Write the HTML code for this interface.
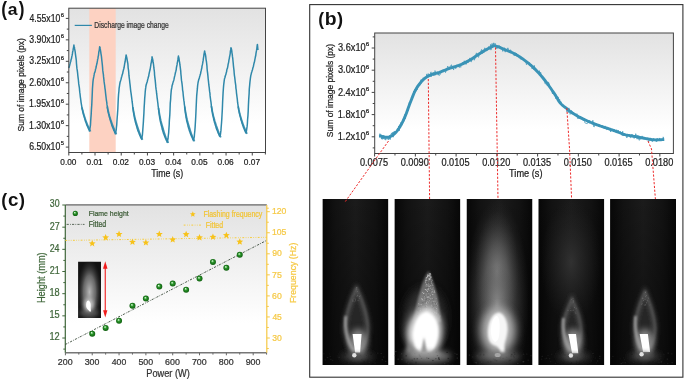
<!DOCTYPE html><html><head><meta charset="utf-8"><style>html,body{margin:0;padding:0;background:#fff;}svg{display:block;font-family:"Liberation Sans",sans-serif;will-change:transform;}</style></head><body><svg width="685" height="382" viewBox="0 0 685 382" font-family="Liberation Sans, sans-serif">
<defs>
<linearGradient id="bgA" x1="0" y1="0" x2="0" y2="1">
 <stop offset="0" stop-color="#e2e2e2"/><stop offset="0.55" stop-color="#f6f6f6"/><stop offset="0.8" stop-color="#ffffff"/></linearGradient>
<linearGradient id="bgB" x1="0" y1="0" x2="0" y2="1">
 <stop offset="0" stop-color="#e2e2e2"/><stop offset="0.55" stop-color="#f6f6f6"/><stop offset="0.8" stop-color="#ffffff"/></linearGradient>
<linearGradient id="bgC" x1="0" y1="0" x2="0" y2="1">
 <stop offset="0" stop-color="#e2e2e2"/><stop offset="0.55" stop-color="#f6f6f6"/><stop offset="0.8" stop-color="#ffffff"/></linearGradient>
<radialGradient id="ball" cx="0.5" cy="0.5" r="0.5" fx="0.38" fy="0.32">
 <stop offset="0" stop-color="#f0fff0"/><stop offset="0.22" stop-color="#8fd08f"/><stop offset="0.45" stop-color="#2a942a"/><stop offset="1" stop-color="#0e5e0e"/></radialGradient>
<filter id="b1" x="-50%" y="-50%" width="200%" height="200%"><feGaussianBlur stdDeviation="1"/></filter>
<filter id="b2" x="-50%" y="-50%" width="200%" height="200%"><feGaussianBlur stdDeviation="2"/></filter>
<filter id="b3" x="-50%" y="-50%" width="200%" height="200%"><feGaussianBlur stdDeviation="3"/></filter>
<filter id="b5" x="-50%" y="-50%" width="200%" height="200%"><feGaussianBlur stdDeviation="5"/></filter>
<filter id="b8" x="-50%" y="-50%" width="200%" height="200%"><feGaussianBlur stdDeviation="8"/></filter>
<filter id="b06" x="-50%" y="-50%" width="200%" height="200%"><feGaussianBlur stdDeviation="0.6"/></filter>
</defs>
<rect x="0" y="0" width="685" height="382" fill="#ffffff"/>
<rect x="68.8" y="8.2" width="196.7" height="144.3" fill="url(#bgA)"/>
<rect x="89.3" y="8.2" width="26.4" height="144.3" fill="#fdd2c2"/>
<path d="M68.87,67.96 L69.24,66.83 L69.53,65.88 L69.77,64.84 L70.08,63.66 L70.39,62.3 L70.76,61.44 L71.03,59.83 L71.42,58.81 L71.72,57.09 L72.1,55.4 L72.39,53.95 L72.59,52.22 L72.93,50.88 L73.22,49.01 L73.61,47.09 L73.91,45.08 L74.09,46.18 L74.45,47.5 L74.65,48.96 L74.93,50.34 L75.24,52.19 L75.41,53.88 L75.71,56.03 L76,58.07 L76.3,60.53 L76.47,63.47 L76.69,65.93 L76.93,68.44 L77.3,70.69 L77.58,72.82 L77.81,75.2 L78.05,77.35 L78.35,79.78 L78.55,81.79 L78.74,83.94 L79.09,86.18 L79.38,87.89 L79.57,90.16 L79.77,92.16 L80.05,94.11 L80.29,96.54 L80.56,98.35 L80.86,100.66 L81.07,102.36 L81.4,104.38 L81.7,106.04 L81.87,107.32 L82.14,108.9 L82.5,109.79 L82.63,111 L82.9,112.22 L83.21,113.15 L83.38,114.23 L83.7,115.27 L84.05,116.28 L84.24,117.17 L84.52,117.78 L84.81,119 L85.07,119.84 L85.25,120.44 L85.46,121.33 L85.71,121.8 L86,122.57 L86.27,123.22 L86.48,123.95 L86.75,124.71 L87,125.61 L87.35,125.88 L87.55,126.6 L87.83,127.1 L88.16,128.13 L88.36,128.47 L88.56,128.85 L88.86,129.49 L89.19,129.99 L89.32,130.93 L89.66,129.74 L89.92,128.33 L90.18,127.1 L90.49,124.79 L90.65,121.6 L90.89,118.14 L91.21,114.06 L91.43,109.51 L91.77,104.76 L92.03,98.69 L92.28,93.06 L92.45,88.8 L92.72,85.05 L92.93,82.08 L93.22,79.7 L93.59,77.63 L93.85,76.45 L94.11,74.93 L94.25,73.84 L94.5,72.91 L94.83,72.39 L95.12,71.28 L95.35,70.44 L95.51,69.28 L95.9,68.25 L96.14,67.01 L96.3,66.06 L96.58,64.93 L96.94,63.55 L97.11,62.6 L97.42,60.92 L97.58,59.54 L97.96,58.43 L98.1,56.93 L98.49,55.28 L98.65,53.6 L98.87,51.64 L99.26,50.22 L99.45,48.56 L99.69,46.69 L100.01,47.4 L100.18,48.68 L100.44,50.23 L100.7,51.7 L100.95,53.62 L101.24,55.18 L101.54,57.44 L101.77,59.82 L102.05,62.22 L102.31,64.64 L102.56,67.36 L102.75,70.14 L103.04,72.31 L103.39,74.66 L103.58,76.92 L103.88,79.31 L104.07,81.43 L104.35,83.48 L104.7,85.76 L104.93,88.03 L105.24,89.97 L105.46,92.12 L105.7,94.36 L105.95,96.44 L106.22,98.78 L106.51,100.86 L106.81,102.59 L107.01,104.88 L107.32,106.31 L107.46,108.16 L107.72,109.6 L107.98,111.19 L108.35,112.57 L108.51,113.67 L108.85,114.51 L109.15,115.98 L109.31,116.99 L109.6,117.74 L109.95,118.88 L110.08,119.62 L110.4,120.48 L110.61,121.34 L110.95,122.04 L111.19,123.07 L111.36,123.8 L111.72,124.66 L111.89,125.63 L112.27,126.34 L112.42,126.68 L112.67,127.61 L112.97,127.94 L113.25,128.97 L113.58,129.28 L113.73,130.23 L114.06,130.73 L114.24,131.01 L114.6,131.78 L114.76,132.61 L115.11,133.1 L115.28,133.68 L115.55,132.95 L115.89,131.44 L116.17,130.14 L116.4,127.72 L116.71,124.97 L116.92,121.52 L117.18,117.75 L117.49,113.83 L117.83,109.05 L118.06,103.43 L118.31,98.14 L118.57,94.29 L118.91,91.29 L119.1,88.37 L119.49,85.79 L119.74,84.14 L119.96,82.99 L120.22,81.7 L120.53,80.99 L120.75,80.07 L121.08,79.16 L121.3,78.18 L121.52,77.14 L121.79,76.43 L122.09,75.13 L122.34,74.46 L122.73,73.34 L122.91,72.07 L123.18,71.09 L123.43,69.94 L123.72,68.99 L124.11,67.51 L124.26,66.38 L124.54,64.68 L124.76,63.23 L125.11,61.78 L125.34,60.21 L125.58,58.47 L125.86,56.87 L126.13,54.96 L126.42,56.07 L126.72,57.41 L127.01,58.83 L127.25,60.44 L127.46,61.78 L127.81,63.4 L128.02,65.61 L128.17,68 L128.56,70.39 L128.79,73.06 L128.95,75.46 L129.26,77.99 L129.56,80.24 L129.78,82.49 L130.05,84.59 L130.24,86.43 L130.48,88.74 L130.73,91.1 L131.05,93.08 L131.32,95.16 L131.55,96.85 L131.86,99.26 L132.07,101.22 L132.35,103.07 L132.61,105.22 L132.76,107.26 L133.12,109.19 L133.38,111.46 L133.59,112.93 L133.85,114.71 L134.15,116.16 L134.38,117.21 L134.56,118.53 L134.91,119.7 L135.14,120.63 L135.31,121.78 L135.66,122.97 L135.92,123.72 L136.15,124.74 L136.39,125.47 L136.72,126.39 L136.99,127.6 L137.09,128.17 L137.47,129.21 L137.67,129.62 L137.88,130.7 L138.14,131.23 L138.38,131.89 L138.77,132.36 L139,133.2 L139.27,133.92 L139.42,134.64 L139.71,134.81 L139.89,135.64 L140.22,136.14 L140.42,136.74 L140.71,137.55 L140.91,138.06 L141.3,138.28 L141.57,139.11 L141.83,138.13 L142.01,136.87 L142.37,135.3 L142.54,133.11 L142.79,129.98 L143.03,126.8 L143.32,122.88 L143.58,118.38 L143.89,113.35 L144.13,107.9 L144.48,102.38 L144.7,98.39 L145.02,94.8 L145.25,91.53 L145.51,89.22 L145.78,87.41 L145.97,85.7 L146.34,84.57 L146.53,83.68 L146.77,82.99 L147.14,81.9 L147.35,81.04 L147.6,80.12 L147.81,78.94 L148.08,78.25 L148.39,76.85 L148.72,76.16 L148.91,74.62 L149.14,73.46 L149.42,72.26 L149.67,71.08 L149.99,70.06 L150.28,68.42 L150.5,67.01 L150.76,65.39 L150.97,63.78 L151.38,62.06 L151.57,60.61 L151.89,58.66 L152.06,56.87 L152.34,58 L152.68,59.41 L152.91,60.37 L153.03,62.24 L153.42,63.76 L153.62,65.27 L153.84,67.73 L154.17,70.02 L154.44,72.25 L154.55,74.83 L154.87,77.68 L155.19,80.11 L155.4,82.42 L155.62,84.58 L155.8,86.93 L156.08,89.2 L156.4,91.08 L156.57,93.2 L156.9,95.55 L157.07,97.33 L157.39,99.64 L157.62,101.53 L157.9,103.53 L158.11,105.87 L158.47,108.06 L158.7,110.03 L158.85,111.92 L159.22,114.06 L159.37,115.51 L159.65,117.5 L159.89,118.8 L160.18,120.48 L160.36,121.28 L160.63,122.64 L160.94,123.62 L161.21,124.93 L161.41,125.66 L161.74,126.68 L161.97,127.58 L162.12,128.77 L162.39,129.75 L162.67,130.23 L162.88,131.17 L163.2,132.24 L163.37,132.73 L163.63,133.77 L163.87,134.03 L164.11,134.9 L164.5,135.83 L164.72,136.54 L165,136.85 L165.14,137.78 L165.48,137.95 L165.72,138.73 L165.92,139.31 L166.14,139.73 L166.41,140.48 L166.77,140.93 L167.02,141.52 L167.18,142.36 L167.53,141.36 L167.69,140.01 L168.02,138.48 L168.27,135.98 L168.66,132.72 L168.87,129.36 L169.2,124.79 L169.37,120.43 L169.79,115.27 L170.04,109.47 L170.25,103.43 L170.63,99.36 L170.8,95.82 L171.09,92.42 L171.32,90.02 L171.75,87.96 L172.03,86.17 L172.2,85.16 L172.59,84.35 L172.78,83.07 L173.07,82.3 L173.43,81.22 L173.69,80.48 L173.97,79.38 L174.22,78.04 L174.45,76.94 L174.81,75.67 L174.99,74.84 L175.28,73.3 L175.53,72.28 L175.85,71.17 L176.22,69.77 L176.4,67.85 L176.66,66.51 L177.03,64.88 L177.24,63.2 L177.58,61.6 L177.88,59.9 L178.15,57.7 L178.45,55.9 L178.66,56.95 L178.94,58.07 L179.11,59.46 L179.34,61.29 L179.66,62.64 L179.88,64.71 L180.15,66.31 L180.45,68.83 L180.73,71.07 L180.9,74.03 L181.2,76.65 L181.33,78.74 L181.59,80.96 L181.98,83.4 L182.22,85.51 L182.46,87.74 L182.61,90.07 L182.97,91.87 L183.17,94.24 L183.35,96.19 L183.59,98.15 L183.86,100.4 L184.17,102.3 L184.32,104.46 L184.68,106.47 L184.87,108.52 L185.2,110.68 L185.33,112.35 L185.63,114.36 L185.92,115.79 L186.1,117.58 L186.39,118.71 L186.62,120.29 L186.87,121.25 L187.13,122.26 L187.46,123.58 L187.63,124.17 L187.94,125.13 L188.07,126.42 L188.39,127.29 L188.63,128.21 L188.89,128.7 L189.07,129.72 L189.42,130.69 L189.58,131.31 L189.88,132 L190.09,132.61 L190.4,133.62 L190.59,134.08 L190.95,134.97 L191.1,135.19 L191.47,136.24 L191.65,136.39 L191.97,137.16 L192.21,137.87 L192.45,138.23 L192.7,138.83 L192.88,139.7 L193.2,139.91 L193.35,140.55 L193.68,139.7 L193.9,138.2 L194.28,136.7 L194.45,134.21 L194.84,130.72 L195.13,126.85 L195.38,122.71 L195.66,118.03 L195.91,112.69 L196.19,106.33 L196.47,100.25 L196.68,95.92 L197.04,91.98 L197.36,88.94 L197.59,85.89 L197.88,83.77 L198.1,82.38 L198.37,81.1 L198.72,79.8 L199.02,78.85 L199.32,78.27 L199.56,76.94 L199.84,76.04 L200.19,74.75 L200.46,74.02 L200.72,72.77 L200.91,71.67 L201.24,70.45 L201.59,68.8 L201.85,67.87 L202.01,66.19 L202.4,64.64 L202.7,63.16 L202.97,61.49 L203.2,60.2 L203.43,58.13 L203.76,56.36 L203.97,54.43 L204.27,52.89 L204.63,50.9 L204.8,51.87 L205.05,52.97 L205.38,54.27 L205.67,55.9 L205.88,57.72 L206.06,59.54 L206.39,61.25 L206.67,63.53 L206.96,66.25 L207.11,68.98 L207.38,71.29 L207.68,73.67 L207.94,76.07 L208.17,78.72 L208.41,80.81 L208.62,82.71 L208.83,84.98 L209.18,87.29 L209.42,89.66 L209.61,91.44 L209.94,93.41 L210.09,95.66 L210.36,97.79 L210.64,100.03 L210.95,101.96 L211.21,104.17 L211.38,106.41 L211.65,107.95 L211.88,110 L212.26,111.75 L212.44,113.01 L212.63,114.56 L212.97,115.67 L213.24,116.89 L213.54,118.14 L213.68,119.27 L213.9,120.09 L214.21,120.91 L214.41,122.14 L214.66,122.95 L215.06,123.64 L215.19,124.74 L215.49,125.59 L215.8,126.16 L215.97,127.01 L216.18,128.06 L216.55,128.7 L216.68,129.47 L217.05,129.96 L217.31,130.62 L217.48,131.1 L217.73,131.7 L218,132.67 L218.31,133.34 L218.57,133.65 L218.8,134.33 L219.09,134.95 L219.26,135.58 L219.62,135.92 L219.86,136.36 L220.04,135.64 L220.4,134.57 L220.68,132.45 L220.98,130.16 L221.16,127.25 L221.5,123.27 L221.79,119.1 L222.04,114.52 L222.35,109.1 L222.59,102.71 L222.89,96.59 L223.11,92.36 L223.37,88.8 L223.66,85.08 L223.94,82.81 L224.26,80.35 L224.48,78.77 L224.87,77.79 L225.15,76.76 L225.33,75.72 L225.66,74.91 L226.01,74 L226.17,72.93 L226.59,71.82 L226.74,70.3 L227.02,69.06 L227.42,68.28 L227.66,67.09 L227.94,65.58 L228.14,64.18 L228.52,62.87 L228.73,61.53 L228.96,59.92 L229.29,58.56 L229.58,56.71 L229.95,55.08 L230.22,53.35 L230.36,51.41 L230.71,49.69 L230.98,47.7 L231.25,48.48 L231.55,49.64 L231.8,51.05 L231.91,52.59 L232.28,54.63 L232.41,56.14 L232.74,58.29 L232.94,60.47 L233.21,63.18 L233.45,65.87 L233.7,68.09 L234.01,70.66 L234.17,73.02 L234.41,75.36 L234.76,77.6 L234.99,79.6 L235.21,81.8 L235.53,83.8 L235.78,85.9 L235.92,88.12 L236.28,90.3 L236.44,92.57 L236.67,94.46 L236.97,96.73 L237.25,98.78 L237.43,100.68 L237.65,102.95 L237.98,104.81 L238.15,106.46 L238.49,108.2 L238.64,109.64 L239.01,110.88 L239.15,112.16 L239.48,113.6 L239.64,114.36 L239.9,115.49 L240.19,116.4 L240.41,117.38 L240.76,118.6 L240.87,119.64 L241.12,120.24 L241.51,121.3 L241.72,121.95 L241.88,122.86 L242.11,123.42 L242.41,124.08 L242.66,125.18 L242.95,125.74 L243.19,126.4 L243.36,127.13 L243.65,127.84 L243.98,128.32 L244.17,129.1 L244.4,129.45 L244.69,130.38 L244.95,130.87 L245.21,131.44 L245.43,131.89 L245.62,132.53 L245.84,132.96 L246.23,132.28 L246.5,130.64 L246.75,128.94 L247.07,126.64 L247.37,123.73 L247.57,119.74 L247.96,115.33 L248.2,111.14 L248.41,105.53 L248.72,99.37 L249.13,93.36 L249.29,89.04 L249.64,85.43 L249.93,82.14 L250.27,79.37 L250.49,77.53 L250.74,75.88 L251.06,74.65 L251.3,73.69 L251.63,72.26 L251.9,71.52 L252.15,70.58 L252.5,69.68 L252.78,68.31 L253.04,67.41 L253.45,66.16 L253.62,65.14 L253.93,63.65 L254.18,62.7 L254.57,61.34 L254.81,59.94 L255.06,58.7 L255.36,57.03 L255.73,55.54 L255.96,53.63 L256.26,51.84 L256.59,50.18 L256.88,48.31 L257.09,46.42 L257.39,44.44 L257.72,47.61 L257.96,49.97" fill="none" stroke="#2f88aa" stroke-width="1.5" stroke-linejoin="round"/>
<path d="M81.95,107.39 L82.21,108.74 L82.27,108.79 L82.53,110.04 L82.6,110.09 L82.86,111.26 L82.92,111.3 L83.17,112.4 L83.23,112.44 L83.49,113.48 L83.54,113.52 L83.8,114.52 L83.86,114.56 L84.11,115.52 L84.17,115.56 L84.43,116.51 L84.48,116.55 L84.73,117.47 L84.78,117.51 L85.04,118.4 L85.09,118.43 L85.35,119.29 L85.39,119.32 L85.65,120.15 L85.7,120.19 L85.95,120.99 L86,121.02 L86.25,121.79 L86.3,121.82 L86.55,122.57 L86.59,122.6 L86.85,123.33 L86.89,123.36 L87.15,124.06 L87.19,124.09 L87.44,124.77 L87.48,124.79 L87.74,125.45 L87.77,125.48 L88.03,126.12 L88.07,126.15 L88.33,126.78 L88.36,126.8 L88.62,127.42 L88.65,127.44 L88.91,128.06 L88.94,128.08 L89.2,128.68 L89.21,128.69 L89.47,129.27 L89.47,129.27 L89.72,129.85 L89.72,129.85 L89.98,130.41 L89.98,130.41 L90.24,130.96 L90.24,130.96 L90.5,131.5" fill="none" stroke="#2f88aa" stroke-width="1.7" stroke-linejoin="round" opacity="0.9"/>
<path d="M107.27,106.5 L107.54,108.2 L107.62,108.26 L107.88,109.79 L107.96,109.85 L108.22,111.22 L108.29,111.28 L108.55,112.55 L108.61,112.6 L108.87,113.79 L108.94,113.83 L109.2,114.95 L109.26,114.99 L109.52,116.06 L109.57,116.1 L109.83,117.11 L109.89,117.15 L110.15,118.13 L110.2,118.17 L110.46,119.14 L110.51,119.18 L110.77,120.12 L110.82,120.15 L111.08,121.06 L111.13,121.1 L111.39,121.97 L111.44,122.01 L111.7,122.85 L111.75,122.88 L112.01,123.7 L112.05,123.73 L112.31,124.52 L112.35,124.55 L112.61,125.32 L112.65,125.35 L112.92,126.09 L112.95,126.11 L113.22,126.83 L113.25,126.86 L113.51,127.55 L113.55,127.58 L113.81,128.25 L113.84,128.27 L114.1,128.93 L114.1,128.93 L114.36,129.57 L114.36,129.57 L114.62,130.2 L114.62,130.2 L114.88,130.82 L114.88,130.82 L115.15,131.43 L115.15,131.43 L115.41,132.03 L115.41,132.03 L115.67,132.62 L115.67,132.62 L115.93,133.19 L115.93,133.19 L116.19,133.75 L116.19,133.75 L116.45,134.3" fill="none" stroke="#2f88aa" stroke-width="1.7" stroke-linejoin="round" opacity="0.9"/>
<path d="M132.9,107.43 L133.16,109.39 L133.26,109.47 L133.52,111.35 L133.61,111.42 L133.87,113.19 L133.96,113.25 L134.21,114.89 L134.3,114.95 L134.55,116.42 L134.62,116.48 L134.88,117.8 L134.95,117.85 L135.2,119.08 L135.26,119.12 L135.52,120.27 L135.58,120.31 L135.83,121.39 L135.89,121.43 L136.14,122.45 L136.2,122.49 L136.45,123.47 L136.51,123.51 L136.76,124.46 L136.81,124.49 L137.07,125.42 L137.12,125.46 L137.37,126.37 L137.42,126.4 L137.67,127.28 L137.72,127.31 L137.98,128.15 L138.01,128.18 L138.26,128.99 L138.26,128.99 L138.52,129.78 L138.52,129.78 L138.78,130.54 L138.78,130.54 L139.03,131.28 L139.03,131.28 L139.28,131.99 L139.28,131.99 L139.54,132.68 L139.54,132.68 L139.79,133.34 L139.79,133.34 L140.05,133.99 L140.05,133.99 L140.31,134.62 L140.31,134.62 L140.56,135.24 L140.56,135.24 L140.81,135.85 L140.81,135.85 L141.07,136.45 L141.07,136.45 L141.32,137.04 L141.32,137.04 L141.58,137.62 L141.58,137.62 L141.84,138.18 L141.84,138.18 L142.09,138.73 L142.09,138.73 L142.34,139.27 L142.34,139.27 L142.6,139.8" fill="none" stroke="#2f88aa" stroke-width="1.7" stroke-linejoin="round" opacity="0.9"/>
<path d="M158.5,108.07 L158.76,110.13 L158.87,110.21 L159.12,112.21 L159.22,112.28 L159.47,114.19 L159.57,114.26 L159.82,116.06 L159.92,116.13 L160.17,117.79 L160.25,117.85 L160.5,119.35 L160.58,119.41 L160.83,120.75 L160.9,120.8 L161.15,122.05 L161.21,122.1 L161.46,123.27 L161.52,123.31 L161.78,124.41 L161.83,124.45 L162.08,125.49 L162.14,125.53 L162.39,126.52 L162.44,126.56 L162.7,127.52 L162.75,127.56 L163,128.5 L163.01,128.52 L163.27,129.44 L163.27,129.44 L163.52,130.33 L163.52,130.33 L163.77,131.19 L163.77,131.19 L164.02,132.01 L164.02,132.01 L164.27,132.81 L164.27,132.81 L164.52,133.58 L164.52,133.58 L164.78,134.33 L164.78,134.33 L165.03,135.06 L165.03,135.06 L165.28,135.76 L165.28,135.76 L165.53,136.44 L165.53,136.44 L165.78,137.09 L165.78,137.09 L166.03,137.74 L166.03,137.74 L166.29,138.36 L166.29,138.36 L166.54,138.98 L166.54,138.98 L166.79,139.59 L166.79,139.59 L167.04,140.19 L167.04,140.19 L167.29,140.78 L167.29,140.78 L167.54,141.35 L167.54,141.35 L167.8,141.91 L167.8,141.91 L168.05,142.46 L168.05,142.46 L168.3,143" fill="none" stroke="#2f88aa" stroke-width="1.7" stroke-linejoin="round" opacity="0.9"/>
<path d="M184.69,106.65 L184.94,108.7 L185.05,108.78 L185.3,110.76 L185.4,110.84 L185.65,112.74 L185.75,112.81 L186,114.59 L186.09,114.66 L186.34,116.31 L186.42,116.37 L186.67,117.86 L186.75,117.91 L187,119.25 L187.06,119.3 L187.31,120.54 L187.38,120.59 L187.63,121.74 L187.69,121.79 L187.94,122.88 L187.99,122.92 L188.24,123.95 L188.3,123.99 L188.55,124.98 L188.6,125.01 L188.85,125.97 L188.9,126.01 L189.15,126.95 L189.2,126.98 L189.45,127.9 L189.5,127.93 L189.75,128.82 L189.75,128.82 L190,129.67 L190,129.67 L190.25,130.49 L190.25,130.49 L190.5,131.28 L190.5,131.28 L190.75,132.05 L190.75,132.05 L191,132.79 L191,132.79 L191.25,133.51 L191.25,133.51 L191.5,134.21 L191.5,134.21 L191.75,134.88 L191.75,134.88 L192,135.54 L192,135.54 L192.25,136.17 L192.25,136.17 L192.5,136.8 L192.5,136.8 L192.75,137.41 L192.75,137.41 L193,138.02 L193,138.02 L193.25,138.61 L193.25,138.61 L193.5,139.19 L193.5,139.19 L193.75,139.77 L193.75,139.77 L194,140.32 L194,140.32 L194.25,140.87 L194.25,140.87 L194.5,141.4" fill="none" stroke="#2f88aa" stroke-width="1.7" stroke-linejoin="round" opacity="0.9"/>
<path d="M211.45,106.2 L211.7,108.13 L211.8,108.2 L212.05,110.01 L212.15,110.08 L212.4,111.76 L212.48,111.82 L212.74,113.33 L212.81,113.39 L213.06,114.74 L213.13,114.79 L213.39,116.05 L213.45,116.1 L213.7,117.27 L213.76,117.32 L214.02,118.42 L214.08,118.47 L214.33,119.51 L214.38,119.55 L214.64,120.56 L214.69,120.59 L214.94,121.57 L215,121.6 L215.25,122.56 L215.3,122.59 L215.55,123.52 L215.6,123.56 L215.86,124.46 L215.9,124.49 L216.16,125.36 L216.2,125.39 L216.46,126.22 L216.5,126.25 L216.75,127.06 L216.8,127.09 L217.05,127.87 L217.09,127.9 L217.35,128.66 L217.35,128.66 L217.61,129.39 L217.61,129.39 L217.86,130.1 L217.86,130.1 L218.11,130.78 L218.11,130.78 L218.37,131.45 L218.37,131.45 L218.62,132.09 L218.62,132.09 L218.87,132.73 L218.87,132.73 L219.13,133.35 L219.13,133.35 L219.38,133.96 L219.38,133.96 L219.63,134.57 L219.63,134.57 L219.89,135.16 L219.89,135.16 L220.14,135.74 L220.14,135.74 L220.39,136.31 L220.39,136.31 L220.65,136.86 L220.65,136.86 L220.9,137.4" fill="none" stroke="#2f88aa" stroke-width="1.7" stroke-linejoin="round" opacity="0.9"/>
<path d="M238.21,106.5 L238.46,108.16 L238.54,108.22 L238.79,109.73 L238.86,109.78 L239.11,111.13 L239.18,111.18 L239.43,112.43 L239.49,112.48 L239.74,113.65 L239.8,113.69 L240.05,114.79 L240.11,114.83 L240.36,115.88 L240.41,115.91 L240.66,116.91 L240.71,116.95 L240.96,117.92 L241.01,117.95 L241.26,118.9 L241.31,118.94 L241.56,119.86 L241.61,119.9 L241.86,120.79 L241.91,120.82 L242.15,121.68 L242.2,121.72 L242.45,122.55 L242.49,122.58 L242.74,123.38 L242.78,123.41 L243.03,124.18 L243.07,124.21 L243.32,124.97 L243.36,124.99 L243.61,125.72 L243.65,125.75 L243.9,126.45 L243.93,126.48 L244.18,127.16 L244.22,127.18 L244.47,127.84 L244.5,127.87 L244.75,128.51 L244.76,128.52 L245.01,129.15 L245.01,129.15 L245.26,129.77 L245.26,129.77 L245.51,130.38 L245.51,130.38 L245.76,130.99 L245.76,130.99 L246.01,131.57 L246.01,131.57 L246.25,132.15 L246.25,132.15 L246.5,132.71 L246.5,132.71 L246.75,133.26 L246.75,133.26 L247,133.8" fill="none" stroke="#2f88aa" stroke-width="1.7" stroke-linejoin="round" opacity="0.9"/>
<rect x="68.8" y="8.2" width="196.7" height="144.3" fill="none" stroke="#444" stroke-width="1"/>
<path d="M65.8,18.4 L68.8,18.4" fill="none" stroke="#444" stroke-width="1" />
<path d="M66.8,29.12 L68.8,29.12" fill="none" stroke="#444" stroke-width="1" />
<path d="M65.8,39.85 L68.8,39.85" fill="none" stroke="#444" stroke-width="1" />
<path d="M66.8,50.57 L68.8,50.57" fill="none" stroke="#444" stroke-width="1" />
<path d="M65.8,61.3 L68.8,61.3" fill="none" stroke="#444" stroke-width="1" />
<path d="M66.8,72.02 L68.8,72.02" fill="none" stroke="#444" stroke-width="1" />
<path d="M65.8,82.75 L68.8,82.75" fill="none" stroke="#444" stroke-width="1" />
<path d="M66.8,93.47 L68.8,93.47" fill="none" stroke="#444" stroke-width="1" />
<path d="M65.8,104.2 L68.8,104.2" fill="none" stroke="#444" stroke-width="1" />
<path d="M66.8,114.92 L68.8,114.92" fill="none" stroke="#444" stroke-width="1" />
<path d="M65.8,125.65 L68.8,125.65" fill="none" stroke="#444" stroke-width="1" />
<path d="M66.8,136.37 L68.8,136.37" fill="none" stroke="#444" stroke-width="1" />
<path d="M65.8,147.1 L68.8,147.1" fill="none" stroke="#444" stroke-width="1" />
<text transform="translate(29.48,21.55) scale(0.8322,1)" font-size="10.423" fill="#222" stroke="#222" stroke-width="0.24" >4.55x10</text>
<text transform="translate(60.66,16.79) scale(0.9587,1)" font-size="6.056" fill="#222" stroke="#222" stroke-width="0.24" >6</text>
<text transform="translate(29.3,43) scale(0.8369,1)" font-size="10.423" fill="#222" stroke="#222" stroke-width="0.24" >3.90x10</text>
<text transform="translate(60.66,38.24) scale(0.9587,1)" font-size="6.056" fill="#222" stroke="#222" stroke-width="0.24" >6</text>
<text transform="translate(29.3,64.45) scale(0.8369,1)" font-size="10.423" fill="#222" stroke="#222" stroke-width="0.24" >3.25x10</text>
<text transform="translate(60.66,59.69) scale(0.9587,1)" font-size="6.056" fill="#222" stroke="#222" stroke-width="0.24" >6</text>
<text transform="translate(29.21,85.9) scale(0.8394,1)" font-size="10.423" fill="#222" stroke="#222" stroke-width="0.24" >2.60x10</text>
<text transform="translate(60.66,81.14) scale(0.9587,1)" font-size="6.056" fill="#222" stroke="#222" stroke-width="0.24" >6</text>
<text transform="translate(28.99,107.35) scale(0.8454,1)" font-size="10.423" fill="#222" stroke="#222" stroke-width="0.24" >1.95x10</text>
<text transform="translate(60.66,102.59) scale(0.9587,1)" font-size="6.056" fill="#222" stroke="#222" stroke-width="0.24" >6</text>
<text transform="translate(28.99,128.8) scale(0.8454,1)" font-size="10.423" fill="#222" stroke="#222" stroke-width="0.24" >1.30x10</text>
<text transform="translate(60.66,124.04) scale(0.9587,1)" font-size="6.056" fill="#222" stroke="#222" stroke-width="0.24" >6</text>
<text transform="translate(29.21,150.25) scale(0.8394,1)" font-size="10.423" fill="#222" stroke="#222" stroke-width="0.24" >6.50x10</text>
<text transform="translate(60.72,145.49) scale(0.9386,1)" font-size="6.056" fill="#222" stroke="#222" stroke-width="0.24" >5</text>
<path d="M68.8,152.5 L68.8,155.5" fill="none" stroke="#444" stroke-width="1" />
<path d="M81.9,152.5 L81.9,154.5" fill="none" stroke="#444" stroke-width="1" />
<text transform="translate(60.32,164.65) scale(0.8529,1)" font-size="9.718" fill="#222" stroke="#222" stroke-width="0.24" >0.00</text>
<path d="M95.01,152.5 L95.01,155.5" fill="none" stroke="#444" stroke-width="1" />
<path d="M108.11,152.5 L108.11,154.5" fill="none" stroke="#444" stroke-width="1" />
<text transform="translate(86.53,164.65) scale(0.8575,1)" font-size="9.718" fill="#222" stroke="#222" stroke-width="0.24" >0.01</text>
<path d="M121.22,152.5 L121.22,155.5" fill="none" stroke="#444" stroke-width="1" />
<path d="M134.32,152.5 L134.32,154.5" fill="none" stroke="#444" stroke-width="1" />
<text transform="translate(112.74,164.65) scale(0.8598,1)" font-size="9.718" fill="#222" stroke="#222" stroke-width="0.24" >0.02</text>
<path d="M147.43,152.5 L147.43,155.5" fill="none" stroke="#444" stroke-width="1" />
<path d="M160.53,152.5 L160.53,154.5" fill="none" stroke="#444" stroke-width="1" />
<text transform="translate(138.95,164.65) scale(0.8552,1)" font-size="9.718" fill="#222" stroke="#222" stroke-width="0.24" >0.03</text>
<path d="M173.64,152.5 L173.64,155.5" fill="none" stroke="#444" stroke-width="1" />
<path d="M186.74,152.5 L186.74,154.5" fill="none" stroke="#444" stroke-width="1" />
<text transform="translate(165.16,164.65) scale(0.8506,1)" font-size="9.718" fill="#222" stroke="#222" stroke-width="0.24" >0.04</text>
<path d="M199.85,152.5 L199.85,155.5" fill="none" stroke="#444" stroke-width="1" />
<path d="M212.95,152.5 L212.95,154.5" fill="none" stroke="#444" stroke-width="1" />
<text transform="translate(191.37,164.65) scale(0.8552,1)" font-size="9.718" fill="#222" stroke="#222" stroke-width="0.24" >0.05</text>
<path d="M226.06,152.5 L226.06,155.5" fill="none" stroke="#444" stroke-width="1" />
<path d="M239.16,152.5 L239.16,154.5" fill="none" stroke="#444" stroke-width="1" />
<text transform="translate(217.58,164.65) scale(0.8552,1)" font-size="9.718" fill="#222" stroke="#222" stroke-width="0.24" >0.06</text>
<path d="M252.27,152.5 L252.27,155.5" fill="none" stroke="#444" stroke-width="1" />
<path d="M265.37,152.5 L265.37,154.5" fill="none" stroke="#444" stroke-width="1" />
<text transform="translate(243.79,164.65) scale(0.8598,1)" font-size="9.718" fill="#222" stroke="#222" stroke-width="0.24" >0.07</text>
<text transform="translate(151.17,176.65) scale(0.8016,1)" font-size="11.014" fill="#222" stroke="#222" stroke-width="0.24" >Time (s)</text>
<text transform="translate(24.15,131.43) rotate(-90) scale(0.8727,1)" font-size="9.718" fill="#222" stroke="#222" stroke-width="0.24">Sum of image pixels (px)</text>
<path d="M74.7,25.4 L91.9,25.4" fill="none" stroke="#2f88aa" stroke-width="1.2" />
<text transform="translate(94.31,28.05) scale(0.7893,1)" font-size="8.551" fill="#333" stroke="#333" stroke-width="0.24" >Discharge image change</text>
<text transform="translate(1.27,15.61) scale(0.8869,1)" font-size="19.733" fill="#111" font-weight="bold" >(</text>
<text transform="translate(7.72,15.18) scale(1.0504,1)" font-size="16.727" fill="#111" font-weight="bold" >a</text>
<text transform="translate(18.85,15.61) scale(0.8713,1)" font-size="19.733" fill="#111" font-weight="bold" >)</text>
<rect x="309.7" y="4.6" width="373.2" height="372.6" fill="none" stroke="#333" stroke-width="1.1"/>
<text transform="translate(318.17,25.41) scale(0.9090,1)" font-size="19.251" fill="#111" font-weight="bold" >(</text>
<text transform="translate(324.69,25.47) scale(1.0644,1)" font-size="18.231" fill="#111" font-weight="bold" >b</text>
<text transform="translate(337.05,25.41) scale(0.9478,1)" font-size="19.251" fill="#111" font-weight="bold" >)</text>
<rect x="374.7" y="33.0" width="298.7" height="120.5" fill="url(#bgB)"/>
<path d="M379.4,135.02 L379.63,137.4 L379.91,133.7 L380.24,136.85 L380.61,135.16 L381.01,134.82 L381.44,139.07 L381.89,135.01 L382.35,139.32 L382.81,137.7 L383.28,139.09 L383.74,135.31 L384.18,138.89 L384.61,139.38 L385,136.91 L385.38,136.93 L385.75,140.17 L386.11,137.48 L386.47,136.54 L386.83,136.21 L387.18,137.93 L387.54,137.73 L387.89,137.47 L388.24,139.9 L388.59,136.56 L388.94,137.78 L389.29,139.27 L389.64,135.22 L390,138.36 L390.36,139.49 L390.71,134.23 L391.07,134.47 L391.43,134.38 L391.79,132.88 L392.14,136.35 L392.5,132.42 L392.86,135.94 L393.21,137.2 L393.57,132.01 L393.93,133.79 L394.29,130.98 L394.64,134.9 L395,132.12 L395.36,132.51 L395.71,132.64 L396.07,133.03 L396.43,131.19 L396.79,131.34 L397.14,130 L397.5,130.6 L397.86,128.06 L398.21,129.54 L398.57,125.93 L398.93,127.61 L399.29,130.85 L399.64,127.41 L400,124.68 L400.36,126.51 L400.71,123.92 L401.07,122.2 L401.43,123.01 L401.79,124.7 L402.14,123.44 L402.5,121.97 L402.86,119.92 L403.21,118.94 L403.57,122.06 L403.93,119.52 L404.29,116.81 L404.64,114.53 L405,114.51 L405.36,118.84 L405.71,113.12 L406.07,113.91 L406.43,113.42 L406.79,111.86 L407.14,110.69 L407.5,107.94 L407.86,107.46 L408.21,110.84 L408.57,105.93 L408.93,107.51 L409.29,102.47 L409.64,103.79 L410,103.72 L410.36,104.04 L410.71,99.66 L411.07,101.48 L411.43,100.22 L411.79,97.49 L412.14,98.52 L412.5,95.41 L412.86,94.68 L413.21,95.05 L413.57,91.23 L413.93,93.23 L414.29,91 L414.64,89.49 L415,90.42 L415.36,91.62 L415.71,89.08 L416.07,91.11 L416.43,86.62 L416.79,85.78 L417.14,89.79 L417.5,87.39 L417.86,87.74 L418.21,84.38 L418.57,86.49 L418.93,85.13 L419.29,85.27 L419.64,83.8 L420,85.23 L420.36,81.81 L420.71,80.87 L421.07,79.63 L421.43,83.44 L421.79,80.01 L422.14,79.15 L422.5,78.95 L422.86,79.38 L423.21,77.72 L423.57,78.96 L423.93,78.1 L424.29,77.91 L424.64,76.96 L425,78.26 L425.36,77.18 L425.71,77.83 L426.07,77.79 L426.43,77.69 L426.79,73.92 L427.14,75.84 L427.5,75.21 L427.86,77.52 L428.21,73.56 L428.57,74.75 L428.93,75.24 L429.29,75 L429.64,76.95 L430,74.49 L430.36,76.59 L430.71,72.55 L431.07,71.86 L431.43,76.59 L431.79,75.22 L432.14,75.19 L432.5,74.5 L432.86,74.98 L433.21,72.16 L433.57,75.53 L433.93,73.06 L434.29,75.39 L434.64,73.85 L435,70.6 L435.35,71.44 L435.67,75.21 L435.98,73.1 L436.28,72.6 L436.58,73.54 L436.88,72.4 L437.19,72.12 L437.51,73.07 L437.85,73.04 L438.21,75.13 L438.6,72.65 L439.02,75.44 L439.49,75.17 L440,74.85 L440.56,73.59 L441.17,71.87 L441.81,71.63 L442.49,70.92 L443.2,69.69 L443.94,70.46 L444.69,69.24 L445.45,72.58 L446.22,70.5 L447,68.63 L447.77,66.04 L448.53,68.66 L449.27,67.8 L450,66.46 L450.71,66.13 L451.43,64.71 L452.14,68.39 L452.86,67.15 L453.57,70.04 L454.29,66.78 L455,66.38 L455.71,68.71 L456.43,66.39 L457.14,66.21 L457.86,65.11 L458.57,64.48 L459.29,67.58 L460,66.5 L460.71,67.35 L461.43,63.74 L462.14,64.03 L462.86,62.26 L463.57,64.89 L464.29,60.77 L465,63.56 L465.71,64.06 L466.43,64.2 L467.14,60.07 L467.86,62.93 L468.57,59.66 L469.29,59.19 L470,57.88 L470.71,61.43 L471.43,61.78 L472.14,57.73 L472.86,57 L473.57,57.19 L474.29,60.24 L475,58.36 L475.71,55.39 L476.43,52.89 L477.14,54.19 L477.86,56.68 L478.57,57.3 L479.29,53.42 L480,52.29 L480.73,52.14 L481.47,49.5 L482.23,53.5 L483,49.85 L483.78,52.84 L484.55,47.96 L485.31,48.22 L486.06,50.28 L486.8,48.19 L487.51,50.27 L488.19,48.66 L488.83,46.42 L489.44,48.98 L490,49.05 L490.5,44.44 L490.93,50.11 L491.31,47.75 L491.65,47.95 L491.95,43.56 L492.23,45.21 L492.5,45.65 L492.77,47.8 L493.05,43.63 L493.35,44.48 L493.69,42.84 L494.07,45.44 L494.5,46.4 L495,43.2 L495.56,45.05 L496.17,46.96 L496.81,48.87 L497.49,47.63 L498.2,46.34 L498.94,45.23 L499.69,45.92 L500.45,46.68 L501.22,48.31 L502,48.34 L502.77,51.42 L503.53,49.54 L504.27,47.68 L505,52.17 L505.71,51.5 L506.43,50.43 L507.14,49.39 L507.86,47.83 L508.57,49.47 L509.29,52.85 L510,50.39 L510.71,49.86 L511.43,52.59 L512.14,52.98 L512.86,53.89 L513.57,54.31 L514.29,55.88 L515,52.66 L515.71,55.96 L516.43,53.23 L517.14,56.34 L517.86,55.95 L518.57,56.5 L519.29,58.12 L520,57.01 L520.71,59.3 L521.43,59.41 L522.14,58.73 L522.86,58.11 L523.57,58.33 L524.29,59.22 L525,60.28 L525.71,61.1 L526.43,64.69 L527.14,63.26 L527.86,64.04 L528.57,62 L529.29,62.82 L530,64.04 L530.71,65.46 L531.43,64.11 L532.14,68.98 L532.86,66.15 L533.57,69.44 L534.29,65.4 L535,69.09 L535.71,70.26 L536.43,70.86 L537.14,72.27 L537.86,72.51 L538.57,73.11 L539.29,70.64 L540,73.31 L540.71,72.27 L541.43,77.12 L542.14,77.45 L542.86,77.51 L543.57,77.39 L544.29,78.67 L545,83.45 L545.73,84.21 L546.47,82.33 L547.23,85.51 L548,81.97 L548.78,82.58 L549.55,85.9 L550.31,86.36 L551.06,87.94 L551.8,90.2 L552.51,93.93 L553.19,90.87 L553.83,92.96 L554.44,94.21 L555,94.55 L555.51,96.86 L555.97,98.94 L556.38,94.79 L556.76,97.69 L557.11,97.63 L557.44,99.21 L557.75,96.75 L558.05,96.93 L558.35,97.26 L558.64,101.61 L558.95,101.56 L559.28,101.86 L559.62,99.22 L560,102.1 L560.4,101.96 L560.8,101.35 L561.22,102.57 L561.64,105.55 L562.07,105.69 L562.5,105.16 L562.94,106.39 L563.38,104.95 L563.82,106.38 L564.26,106.68 L564.7,107.84 L565.13,107.19 L565.57,107.42 L566,107.78 L566.42,107.32 L566.84,111.7 L567.25,109.87 L567.66,110.07 L568.06,112.72 L568.47,112.3 L568.88,107.9 L569.29,111.83 L569.71,112.39 L570.14,114.37 L570.58,113.81 L571.04,113.27 L571.51,110.48 L572,111.31 L572.51,113.47 L573.02,114.18 L573.55,112.07 L574.08,113.43 L574.63,113.74 L575.18,114.81 L575.75,115.59 L576.33,114.93 L576.91,113.74 L577.51,118.05 L578.12,118.95 L578.73,116.56 L579.36,118.7 L580,118.11 L580.65,118.79 L581.32,118.85 L582.01,117.2 L582.71,119.69 L583.42,120.73 L584.15,118.03 L584.88,122.81 L585.61,123.15 L586.35,123.4 L587.08,123.82 L587.82,122.34 L588.55,120.93 L589.28,120.83 L590,120.8 L590.71,122.59 L591.43,122.64 L592.14,124.06 L592.86,120.27 L593.57,126.54 L594.29,126.82 L595,124.04 L595.71,125.44 L596.43,125.38 L597.14,125.31 L597.86,124.8 L598.57,125.19 L599.29,124.33 L600,126.19 L600.72,126.11 L601.44,126.91 L602.16,125.27 L602.89,126.94 L603.61,127.19 L604.34,128.32 L605.06,125.88 L605.78,128.48 L606.5,129.62 L607.22,129.23 L607.92,127.91 L608.62,127.95 L609.32,128.59 L610,130.37 L610.68,131.92 L611.36,129.43 L612.05,128.9 L612.73,130.78 L613.41,130.75 L614.08,129.22 L614.75,129.74 L615.41,131 L616.05,132.48 L616.68,129.73 L617.29,130.24 L617.88,132.88 L618.45,130.34 L619,132.67 L619.51,133.26 L619.98,132.7 L620.41,131.42 L620.82,133.12 L621.2,132.85 L621.57,134.08 L621.94,132.35 L622.31,135.59 L622.68,131.31 L623.08,133.85 L623.5,134.29 L623.96,135.95 L624.46,133.58 L625,135.57 L625.59,133.93 L626.22,136.16 L626.88,137.89 L627.57,134.6 L628.28,136.08 L629.01,134.01 L629.75,137.18 L630.5,137.68 L631.26,135.92 L632.03,134.17 L632.78,136.76 L633.54,138.08 L634.28,138.11 L635,137.8 L635.71,133.7 L636.43,135.68 L637.14,139.18 L637.86,135.09 L638.57,139 L639.29,140.33 L640,138.69 L640.71,139.4 L641.43,137.21 L642.14,135.92 L642.86,137.85 L643.57,137.83 L644.29,138.2 L645,139.51 L645.72,138.29 L646.44,138.96 L647.16,139.46 L647.89,138.9 L648.61,141.99 L649.34,139.88 L650.06,139.43 L650.78,139.08 L651.5,138.52 L652.22,141.77 L652.92,139.95 L653.62,138.06 L654.32,138.95 L655,139.68 L655.69,139.22 L656.42,141.67 L657.16,138.07 L657.91,140.7 L658.66,140.11 L659.4,137.96 L660.12,139.87 L660.83,139.59 L661.49,140.49 L662.11,138.92 L662.68,140.08 L663.2,136.89 L663.64,137.79 L664,140.76" fill="none" stroke="#4499bb" stroke-width="0.8" stroke-linejoin="miter"/>
<path d="M379.4,135.6 L379.74,135.7 L380.17,135.83 L380.69,136 L381.27,136.18 L381.89,136.37 L382.53,136.56 L383.19,136.74 L383.83,136.9 L384.44,137.02 L385,137.1 L385.52,137.15 L386.04,137.19 L386.54,137.21 L387.04,137.22 L387.54,137.21 L388.03,137.17 L388.52,137.1 L389.01,137 L389.5,136.87 L390,136.7 L390.5,136.5 L391,136.26 L391.5,136 L392,135.71 L392.5,135.39 L393,135.03 L393.5,134.65 L394,134.23 L394.5,133.78 L395,133.3 L395.5,132.78 L396,132.24 L396.5,131.66 L397,131.05 L397.5,130.41 L398,129.74 L398.5,129.03 L399,128.29 L399.5,127.51 L400,126.7 L400.5,125.85 L401,124.97 L401.5,124.06 L402,123.11 L402.5,122.12 L403,121.11 L403.5,120.06 L404,118.97 L404.5,117.85 L405,116.7 L405.5,115.49 L406,114.22 L406.5,112.89 L407,111.53 L407.5,110.14 L408,108.74 L408.5,107.34 L409,105.96 L409.5,104.61 L410,103.3 L410.5,102.01 L411,100.71 L411.5,99.41 L412,98.12 L412.5,96.85 L413,95.61 L413.5,94.4 L414,93.24 L414.5,92.14 L415,91.1 L415.5,90.13 L416,89.22 L416.5,88.35 L417,87.53 L417.5,86.76 L418,86.01 L418.5,85.3 L419,84.62 L419.5,83.95 L420,83.3 L420.5,82.67 L421,82.07 L421.5,81.51 L422,80.96 L422.5,80.45 L423,79.96 L423.5,79.49 L424,79.04 L424.5,78.61 L425,78.2 L425.5,77.81 L426,77.44 L426.5,77.1 L427,76.78 L427.5,76.48 L428,76.2 L428.5,75.93 L429,75.68 L429.5,75.43 L430,75.2 L430.5,74.98 L431,74.79 L431.5,74.61 L432,74.45 L432.5,74.31 L433,74.17 L433.5,74.03 L434,73.89 L434.5,73.75 L435,73.6 L435.48,73.46 L435.92,73.33 L436.34,73.22 L436.76,73.11 L437.19,72.99 L437.64,72.87 L438.13,72.72 L438.68,72.55 L439.3,72.35 L440,72.1 L440.8,71.8 L441.68,71.46 L442.63,71.09 L443.64,70.68 L444.69,70.26 L445.76,69.83 L446.84,69.4 L447.92,68.98 L448.98,68.58 L450,68.2 L451,67.85 L452,67.53 L453,67.22 L454,66.91 L455,66.61 L456,66.31 L457,65.99 L458,65.65 L459,65.29 L460,64.9 L461,64.48 L462,64.05 L463,63.6 L464,63.14 L465,62.66 L466,62.16 L467,61.65 L468,61.11 L469,60.57 L470,60 L471,59.4 L472,58.77 L473,58.12 L474,57.44 L475,56.75 L476,56.06 L477,55.37 L478,54.69 L479,54.03 L480,53.4 L481.02,52.78 L482.08,52.14 L483.16,51.5 L484.24,50.87 L485.31,50.25 L486.36,49.66 L487.37,49.09 L488.32,48.58 L489.2,48.11 L490,47.7 L490.68,47.34 L491.24,47 L491.71,46.7 L492.12,46.43 L492.5,46.21 L492.88,46.03 L493.29,45.91 L493.76,45.84 L494.32,45.84 L495,45.9 L495.8,46.05 L496.68,46.29 L497.63,46.61 L498.64,46.99 L499.69,47.42 L500.76,47.88 L501.84,48.35 L502.92,48.82 L503.98,49.27 L505,49.7 L506,50.1 L507,50.49 L508,50.88 L509,51.27 L510,51.68 L511,52.09 L512,52.53 L513,52.98 L514,53.47 L515,54 L516,54.56 L517,55.14 L518,55.75 L519,56.38 L520,57.04 L521,57.71 L522,58.41 L523,59.12 L524,59.85 L525,60.6 L526,61.36 L527,62.13 L528,62.92 L529,63.72 L530,64.55 L531,65.4 L532,66.28 L533,67.18 L534,68.12 L535,69.1 L536,70.11 L537,71.15 L538,72.22 L539,73.32 L540,74.45 L541,75.61 L542,76.79 L543,78 L544,79.24 L545,80.5 L546.02,81.83 L547.08,83.24 L548.16,84.72 L549.24,86.23 L550.31,87.76 L551.36,89.26 L552.37,90.73 L553.32,92.12 L554.2,93.42 L555,94.6 L555.7,95.67 L556.3,96.65 L556.84,97.56 L557.31,98.41 L557.75,99.2 L558.17,99.95 L558.58,100.66 L559.02,101.36 L559.48,102.03 L560,102.7 L560.56,103.35 L561.14,103.95 L561.73,104.51 L562.33,105.05 L562.94,105.56 L563.55,106.06 L564.17,106.54 L564.78,107.02 L565.4,107.51 L566,108 L566.59,108.49 L567.17,108.98 L567.74,109.45 L568.3,109.92 L568.88,110.39 L569.46,110.85 L570.05,111.31 L570.67,111.77 L571.32,112.23 L572,112.7 L572.71,113.17 L573.44,113.64 L574.19,114.11 L574.96,114.58 L575.75,115.05 L576.56,115.52 L577.39,115.99 L578.24,116.46 L579.11,116.93 L580,117.4 L580.92,117.87 L581.87,118.35 L582.85,118.84 L583.86,119.32 L584.88,119.81 L585.9,120.28 L586.94,120.76 L587.97,121.22 L588.99,121.67 L590,122.1 L591,122.52 L592,122.93 L593,123.32 L594,123.71 L595,124.09 L596,124.46 L597,124.83 L598,125.19 L599,125.54 L600,125.9 L601,126.25 L602.02,126.59 L603.03,126.93 L604.05,127.26 L605.06,127.58 L606.07,127.9 L607.07,128.23 L608.06,128.55 L609.04,128.87 L610,129.2 L610.95,129.53 L611.91,129.88 L612.87,130.22 L613.82,130.57 L614.75,130.92 L615.66,131.26 L616.55,131.59 L617.41,131.91 L618.23,132.21 L619,132.5 L619.7,132.77 L620.33,133.02 L620.89,133.25 L621.42,133.48 L621.94,133.69 L622.46,133.9 L623,134.1 L623.59,134.3 L624.25,134.5 L625,134.7 L625.84,134.9 L626.74,135.08 L627.71,135.27 L628.71,135.44 L629.75,135.62 L630.81,135.79 L631.87,135.97 L632.94,136.14 L633.98,136.32 L635,136.5 L636,136.69 L637,136.88 L638,137.08 L639,137.27 L640,137.47 L641,137.66 L642,137.86 L643,138.04 L644,138.23 L645,138.4 L646,138.57 L647.02,138.76 L648.03,138.94 L649.05,139.12 L650.06,139.29 L651.07,139.46 L652.07,139.6 L653.06,139.73 L654.04,139.83 L655,139.9 L655.98,139.94 L657.01,139.94 L658.06,139.91 L659.1,139.86 L660.12,139.79 L661.1,139.72 L661.99,139.65 L662.79,139.58 L663.47,139.53 L664,139.5" fill="none" stroke="#3a93b6" stroke-width="2.9" stroke-linejoin="round"/>
<rect x="374.7" y="33.0" width="298.7" height="120.5" fill="none" stroke="#444" stroke-width="1"/>
<path d="M371.7,48 L374.7,48" fill="none" stroke="#444" stroke-width="1" />
<path d="M372.7,36.9 L374.7,36.9" fill="none" stroke="#444" stroke-width="1" />
<text transform="translate(337.98,51.19) scale(0.8623,1)" font-size="10.704" fill="#222" stroke="#222" stroke-width="0.24" >3.6x10</text>
<text transform="translate(365.79,46.39) scale(1.0800,1)" font-size="5.775" fill="#222" stroke="#222" stroke-width="0.24" >6</text>
<path d="M371.7,70.2 L374.7,70.2" fill="none" stroke="#444" stroke-width="1" />
<path d="M372.7,59.1 L374.7,59.1" fill="none" stroke="#444" stroke-width="1" />
<text transform="translate(337.98,73.39) scale(0.8623,1)" font-size="10.704" fill="#222" stroke="#222" stroke-width="0.24" >3.0x10</text>
<text transform="translate(365.79,68.59) scale(1.0800,1)" font-size="5.775" fill="#222" stroke="#222" stroke-width="0.24" >6</text>
<path d="M371.7,92.4 L374.7,92.4" fill="none" stroke="#444" stroke-width="1" />
<path d="M372.7,81.3 L374.7,81.3" fill="none" stroke="#444" stroke-width="1" />
<text transform="translate(337.89,95.59) scale(0.8653,1)" font-size="10.704" fill="#222" stroke="#222" stroke-width="0.24" >2.4x10</text>
<text transform="translate(365.79,90.79) scale(1.0800,1)" font-size="5.775" fill="#222" stroke="#222" stroke-width="0.24" >6</text>
<path d="M371.7,114.6 L374.7,114.6" fill="none" stroke="#444" stroke-width="1" />
<path d="M372.7,103.5 L374.7,103.5" fill="none" stroke="#444" stroke-width="1" />
<text transform="translate(337.65,117.79) scale(0.8728,1)" font-size="10.704" fill="#222" stroke="#222" stroke-width="0.24" >1.8x10</text>
<text transform="translate(365.79,112.99) scale(1.0800,1)" font-size="5.775" fill="#222" stroke="#222" stroke-width="0.24" >6</text>
<path d="M371.7,136.8 L374.7,136.8" fill="none" stroke="#444" stroke-width="1" />
<path d="M372.7,125.7 L374.7,125.7" fill="none" stroke="#444" stroke-width="1" />
<text transform="translate(337.65,139.99) scale(0.8728,1)" font-size="10.704" fill="#222" stroke="#222" stroke-width="0.24" >1.2x10</text>
<text transform="translate(365.79,135.19) scale(1.0800,1)" font-size="5.775" fill="#222" stroke="#222" stroke-width="0.24" >6</text>
<path d="M372.7,147.9 L374.7,147.9" fill="none" stroke="#444" stroke-width="1" />
<path d="M374.6,153.5 L374.6,156.5" fill="none" stroke="#444" stroke-width="1" />
<path d="M394.97,153.5 L394.97,155.5" fill="none" stroke="#444" stroke-width="1" />
<text transform="translate(359.93,166.14) scale(0.8590,1)" font-size="10.704" fill="#222" stroke="#222" stroke-width="0.24" >0.0075</text>
<path d="M415.35,153.5 L415.35,156.5" fill="none" stroke="#444" stroke-width="1" />
<path d="M435.72,153.5 L435.72,155.5" fill="none" stroke="#444" stroke-width="1" />
<text transform="translate(400.68,166.14) scale(0.8575,1)" font-size="10.704" fill="#222" stroke="#222" stroke-width="0.24" >0.0090</text>
<path d="M456.1,153.5 L456.1,156.5" fill="none" stroke="#444" stroke-width="1" />
<path d="M476.47,153.5 L476.47,155.5" fill="none" stroke="#444" stroke-width="1" />
<text transform="translate(441.43,166.14) scale(0.8590,1)" font-size="10.704" fill="#222" stroke="#222" stroke-width="0.24" >0.0105</text>
<path d="M496.85,153.5 L496.85,156.5" fill="none" stroke="#444" stroke-width="1" />
<path d="M517.22,153.5 L517.22,155.5" fill="none" stroke="#444" stroke-width="1" />
<text transform="translate(482.18,166.14) scale(0.8575,1)" font-size="10.704" fill="#222" stroke="#222" stroke-width="0.24" >0.0120</text>
<path d="M537.6,153.5 L537.6,156.5" fill="none" stroke="#444" stroke-width="1" />
<path d="M557.97,153.5 L557.97,155.5" fill="none" stroke="#444" stroke-width="1" />
<text transform="translate(522.93,166.14) scale(0.8590,1)" font-size="10.704" fill="#222" stroke="#222" stroke-width="0.24" >0.0135</text>
<path d="M578.35,153.5 L578.35,156.5" fill="none" stroke="#444" stroke-width="1" />
<path d="M598.72,153.5 L598.72,155.5" fill="none" stroke="#444" stroke-width="1" />
<text transform="translate(563.68,166.14) scale(0.8575,1)" font-size="10.704" fill="#222" stroke="#222" stroke-width="0.24" >0.0150</text>
<path d="M619.1,153.5 L619.1,156.5" fill="none" stroke="#444" stroke-width="1" />
<path d="M639.47,153.5 L639.47,155.5" fill="none" stroke="#444" stroke-width="1" />
<text transform="translate(604.43,166.14) scale(0.8590,1)" font-size="10.704" fill="#222" stroke="#222" stroke-width="0.24" >0.0165</text>
<path d="M659.85,153.5 L659.85,156.5" fill="none" stroke="#444" stroke-width="1" />
<text transform="translate(645.18,166.14) scale(0.8575,1)" font-size="10.704" fill="#222" stroke="#222" stroke-width="0.24" >0.0180</text>
<text transform="translate(509.07,176.85) scale(0.8719,1)" font-size="10.580" fill="#222" stroke="#222" stroke-width="0.24" >Time (s)</text>
<text transform="translate(333.45,137.13) rotate(-90) scale(0.8727,1)" font-size="9.718" fill="#222" stroke="#222" stroke-width="0.24">Sum of image pixels (px)</text>
<defs>
<linearGradient id="fbgH" x1="0" y1="0" x2="1" y2="0">
 <stop offset="0" stop-color="#070707"/><stop offset="0.2" stop-color="#121212"/><stop offset="0.5" stop-color="#1b1b1b"/><stop offset="0.8" stop-color="#121212"/><stop offset="1" stop-color="#070707"/></linearGradient>
<linearGradient id="fbgV" x1="0" y1="0" x2="0" y2="1">
 <stop offset="0" stop-color="#000" stop-opacity="0.0"/><stop offset="0.55" stop-color="#000" stop-opacity="0.25"/><stop offset="1" stop-color="#000" stop-opacity="0.35"/></linearGradient>
<radialGradient id="glowW" cx="0.5" cy="0.5" r="0.5">
 <stop offset="0" stop-color="#fff" stop-opacity="1"/><stop offset="0.5" stop-color="#fff" stop-opacity="0.5"/><stop offset="1" stop-color="#fff" stop-opacity="0"/></radialGradient>
<radialGradient id="glowG" cx="0.5" cy="0.5" r="0.5">
 <stop offset="0" stop-color="#9a9a9a" stop-opacity="1"/><stop offset="0.45" stop-color="#707070" stop-opacity="0.75"/><stop offset="1" stop-color="#404040" stop-opacity="0"/></radialGradient>
<radialGradient id="glowD" cx="0.5" cy="0.5" r="0.5">
 <stop offset="0" stop-color="#3a3a3a" stop-opacity="1"/><stop offset="1" stop-color="#2a2a2a" stop-opacity="0"/></radialGradient>
</defs>
<clipPath id="clip0"><rect x="322.4" y="199.0" width="66.0" height="166.0"/></clipPath>
<g clip-path="url(#clip0)">
<rect x="322.4" y="199.0" width="66.0" height="166.0" fill="url(#fbgH)"/>
<rect x="322.4" y="199.0" width="66.0" height="166.0" fill="url(#fbgV)"/>
<ellipse cx="357.3" cy="356.55" rx="16" ry="5" fill="#383838" filter="url(#b3)"/>
<rect x="370.55" y="353.89" width="1.4" height="1.1" fill="rgb(20,20,20)" opacity="0.7"/>
<rect x="382.87" y="356.47" width="1.4" height="1.1" fill="rgb(33,33,33)" opacity="0.7"/>
<rect x="360.91" y="358.93" width="1.4" height="1.1" fill="rgb(21,21,21)" opacity="0.7"/>
<rect x="347.92" y="362.82" width="1.4" height="1.1" fill="rgb(31,31,31)" opacity="0.7"/>
<rect x="344.24" y="354.76" width="1.4" height="1.1" fill="rgb(30,30,30)" opacity="0.7"/>
<rect x="368.55" y="361.69" width="1.4" height="1.1" fill="rgb(38,38,38)" opacity="0.7"/>
<rect x="374.28" y="362.5" width="1.4" height="1.1" fill="rgb(32,32,32)" opacity="0.7"/>
<rect x="377.07" y="352.62" width="1.4" height="1.1" fill="rgb(36,36,36)" opacity="0.7"/>
<rect x="331.86" y="359.82" width="1.4" height="1.1" fill="rgb(31,31,31)" opacity="0.7"/>
<rect x="338.48" y="356.85" width="1.4" height="1.1" fill="rgb(40,40,40)" opacity="0.7"/>
<rect x="323.15" y="353.25" width="1.4" height="1.1" fill="rgb(25,25,25)" opacity="0.7"/>
<rect x="326.87" y="356.98" width="1.4" height="1.1" fill="rgb(36,36,36)" opacity="0.7"/>
<rect x="365.56" y="354.59" width="1.4" height="1.1" fill="rgb(33,33,33)" opacity="0.7"/>
<rect x="384.95" y="360.93" width="1.4" height="1.1" fill="rgb(34,34,34)" opacity="0.7"/>
<rect x="363.24" y="361.31" width="1.4" height="1.1" fill="rgb(21,21,21)" opacity="0.7"/>
<rect x="324.62" y="359.38" width="1.4" height="1.1" fill="rgb(28,28,28)" opacity="0.7"/>
<rect x="381.61" y="359.17" width="1.4" height="1.1" fill="rgb(40,40,40)" opacity="0.7"/>
<rect x="357.38" y="362.63" width="1.4" height="1.1" fill="rgb(39,39,39)" opacity="0.7"/>
<rect x="328.88" y="353.4" width="1.4" height="1.1" fill="rgb(20,20,20)" opacity="0.7"/>
<rect x="350.37" y="362.93" width="1.4" height="1.1" fill="rgb(29,29,29)" opacity="0.7"/>
<rect x="329.69" y="356" width="1.4" height="1.1" fill="rgb(25,25,25)" opacity="0.7"/>
<rect x="330.16" y="358.83" width="1.4" height="1.1" fill="rgb(36,36,36)" opacity="0.7"/>
<rect x="380.54" y="352.97" width="1.4" height="1.1" fill="rgb(38,38,38)" opacity="0.7"/>
<rect x="356.83" y="353.71" width="1.4" height="1.1" fill="rgb(23,23,23)" opacity="0.7"/>
<rect x="355.4" y="362.18" width="1.4" height="1.1" fill="rgb(33,33,33)" opacity="0.7"/>
<rect x="359.64" y="355.15" width="1.4" height="1.1" fill="rgb(22,22,22)" opacity="0.7"/>
<rect x="370.16" y="355.3" width="1.4" height="1.1" fill="rgb(34,34,34)" opacity="0.7"/>
<rect x="361.74" y="358.56" width="1.4" height="1.1" fill="rgb(40,40,40)" opacity="0.7"/>
<rect x="347.34" y="358.31" width="1.4" height="1.1" fill="rgb(31,31,31)" opacity="0.7"/>
<rect x="352.13" y="358.3" width="1.4" height="1.1" fill="rgb(39,39,39)" opacity="0.7"/>
<path d="M356.5,288 C360.88,297 369,317 367.75,332 C365.25,348 359,352 356.5,352 C354,352 347.75,348 345.25,332 C344,317 352.12,297 356.5,288 Z" fill="#282828" stroke="#4c4c4c" stroke-width="4" filter="url(#b2)"/>
<path d="M356.5,288 C360.88,297 369,317 367.75,332 C365.25,348 359,352 356.5,352 C354,352 347.75,348 345.25,332 C344,317 352.12,297 356.5,288 Z" fill="none" stroke="#626262" stroke-width="1.4" filter="url(#b1)" opacity="0.8"/>
<path d="M345.88,316 C344,330 349,346 355.1,351" fill="none" stroke="#959595" stroke-width="2.8" filter="url(#b1)"/>
<rect x="358.51" y="294.17" width="0.9" height="0.9" fill="rgb(61,61,61)"/>
<rect x="355.43" y="290.63" width="0.9" height="0.9" fill="rgb(92,92,92)"/>
<rect x="359.8" y="295.19" width="0.9" height="0.9" fill="rgb(85,85,85)"/>
<rect x="356.29" y="287.18" width="0.9" height="0.9" fill="rgb(115,115,115)"/>
<rect x="354.51" y="301.28" width="0.9" height="0.9" fill="rgb(80,80,80)"/>
<rect x="355.11" y="294.37" width="0.9" height="0.9" fill="rgb(73,73,73)"/>
<rect x="357.7" y="291.43" width="0.9" height="0.9" fill="rgb(70,70,70)"/>
<rect x="357.25" y="295.27" width="0.9" height="0.9" fill="rgb(82,82,82)"/>
<rect x="353.91" y="293.6" width="0.9" height="0.9" fill="rgb(84,84,84)"/>
<rect x="355.03" y="299.51" width="0.9" height="0.9" fill="rgb(108,108,108)"/>
<rect x="355.83" y="288.64" width="0.9" height="0.9" fill="rgb(103,103,103)"/>
<rect x="353.37" y="298.08" width="0.9" height="0.9" fill="rgb(81,81,81)"/>
<rect x="353.51" y="297.02" width="0.9" height="0.9" fill="rgb(72,72,72)"/>
<rect x="359.22" y="296.24" width="0.9" height="0.9" fill="rgb(112,112,112)"/>
<rect x="352.41" y="299.58" width="0.9" height="0.9" fill="rgb(114,114,114)"/>
<rect x="358.86" y="298.15" width="0.9" height="0.9" fill="rgb(90,90,90)"/>
<rect x="357.04" y="291.03" width="0.9" height="0.9" fill="rgb(100,100,100)"/>
<rect x="352.44" y="300.72" width="0.9" height="0.9" fill="rgb(115,115,115)"/>
<rect x="356.29" y="288.55" width="0.9" height="0.9" fill="rgb(95,95,95)"/>
<rect x="356.48" y="295.79" width="0.9" height="0.9" fill="rgb(96,96,96)"/>
<rect x="357.5" y="289.24" width="0.9" height="0.9" fill="rgb(77,77,77)"/>
<rect x="357.62" y="300.09" width="0.9" height="0.9" fill="rgb(84,84,84)"/>
<rect x="358.47" y="299.78" width="0.9" height="0.9" fill="rgb(78,78,78)"/>
<rect x="354.66" y="297.85" width="0.9" height="0.9" fill="rgb(85,85,85)"/>
<rect x="357.15" y="294.89" width="0.9" height="0.9" fill="rgb(101,101,101)"/>
<ellipse cx="358.1" cy="343" rx="9" ry="14" fill="#a0a0a0" filter="url(#b3)" opacity="0.8"/>
<path d="M352.6,334 L361.6,334 L360.1,352.5 L355.1,352.5 Z" fill="#ffffff" filter="url(#b06)"/>
<ellipse cx="356.3" cy="356.8" rx="9" ry="3.5" fill="#4a4a4a" filter="url(#b2)" opacity="0.8"/>
<circle cx="354.3" cy="355.3" r="2.2" fill="#e0e0e0" filter="url(#b06)"/>
</g>
<clipPath id="clip1"><rect x="394.4" y="199.0" width="66.0" height="166.0"/></clipPath>
<g clip-path="url(#clip1)">
<rect x="394.4" y="199.0" width="66.0" height="166.0" fill="url(#fbgH)"/>
<rect x="394.4" y="199.0" width="66.0" height="166.0" fill="url(#fbgV)"/>
<ellipse cx="427" cy="356.25" rx="24" ry="7" fill="#6a6a6a" filter="url(#b3)"/>
<rect x="415.17" y="361.63" width="1.4" height="1.1" fill="rgb(51,51,51)" opacity="0.7"/>
<rect x="418.95" y="355.05" width="1.4" height="1.1" fill="rgb(54,54,54)" opacity="0.7"/>
<rect x="414.01" y="352.96" width="1.4" height="1.1" fill="rgb(56,56,56)" opacity="0.7"/>
<rect x="418.72" y="354.13" width="1.4" height="1.1" fill="rgb(41,41,41)" opacity="0.7"/>
<rect x="415.29" y="362.39" width="1.4" height="1.1" fill="rgb(35,35,35)" opacity="0.7"/>
<rect x="456.24" y="353.76" width="1.4" height="1.1" fill="rgb(47,47,47)" opacity="0.7"/>
<rect x="451.89" y="363.9" width="1.4" height="1.1" fill="rgb(21,21,21)" opacity="0.7"/>
<rect x="397.46" y="358.63" width="1.4" height="1.1" fill="rgb(51,51,51)" opacity="0.7"/>
<rect x="413.74" y="358.24" width="1.4" height="1.1" fill="rgb(39,39,39)" opacity="0.7"/>
<rect x="429.13" y="364.48" width="1.4" height="1.1" fill="rgb(53,53,53)" opacity="0.7"/>
<rect x="447.66" y="360.82" width="1.4" height="1.1" fill="rgb(47,47,47)" opacity="0.7"/>
<rect x="419.52" y="355.83" width="1.4" height="1.1" fill="rgb(58,58,58)" opacity="0.7"/>
<rect x="438.02" y="357.12" width="1.4" height="1.1" fill="rgb(20,20,20)" opacity="0.7"/>
<rect x="438.03" y="358.09" width="1.4" height="1.1" fill="rgb(26,26,26)" opacity="0.7"/>
<rect x="420.81" y="357.76" width="1.4" height="1.1" fill="rgb(55,55,55)" opacity="0.7"/>
<rect x="454.28" y="353.08" width="1.4" height="1.1" fill="rgb(32,32,32)" opacity="0.7"/>
<rect x="456.61" y="357.57" width="1.4" height="1.1" fill="rgb(48,48,48)" opacity="0.7"/>
<rect x="443.89" y="363.14" width="1.4" height="1.1" fill="rgb(57,57,57)" opacity="0.7"/>
<rect x="416.54" y="358.16" width="1.4" height="1.1" fill="rgb(25,25,25)" opacity="0.7"/>
<rect x="405.41" y="355.29" width="1.4" height="1.1" fill="rgb(24,24,24)" opacity="0.7"/>
<rect x="447.68" y="357.92" width="1.4" height="1.1" fill="rgb(27,27,27)" opacity="0.7"/>
<rect x="436.71" y="354.98" width="1.4" height="1.1" fill="rgb(41,41,41)" opacity="0.7"/>
<rect x="447.33" y="364.37" width="1.4" height="1.1" fill="rgb(46,46,46)" opacity="0.7"/>
<rect x="435.11" y="358.07" width="1.4" height="1.1" fill="rgb(52,52,52)" opacity="0.7"/>
<rect x="407.8" y="363.06" width="1.4" height="1.1" fill="rgb(46,46,46)" opacity="0.7"/>
<rect x="406.17" y="359.51" width="1.4" height="1.1" fill="rgb(58,58,58)" opacity="0.7"/>
<rect x="401.28" y="358.69" width="1.4" height="1.1" fill="rgb(60,60,60)" opacity="0.7"/>
<rect x="435.46" y="351.57" width="1.4" height="1.1" fill="rgb(46,46,46)" opacity="0.7"/>
<rect x="395.09" y="351.04" width="1.4" height="1.1" fill="rgb(55,55,55)" opacity="0.7"/>
<rect x="394.65" y="355.11" width="1.4" height="1.1" fill="rgb(26,26,26)" opacity="0.7"/>
<rect x="432.21" y="360.02" width="1.4" height="1.1" fill="rgb(32,32,32)" opacity="0.7"/>
<rect x="405.7" y="361.38" width="1.4" height="1.1" fill="rgb(56,56,56)" opacity="0.7"/>
<rect x="411.56" y="359.73" width="1.4" height="1.1" fill="rgb(54,54,54)" opacity="0.7"/>
<rect x="427.57" y="352.94" width="1.4" height="1.1" fill="rgb(32,32,32)" opacity="0.7"/>
<rect x="420.92" y="352.64" width="1.4" height="1.1" fill="rgb(30,30,30)" opacity="0.7"/>
<rect x="427.84" y="357.88" width="1.4" height="1.1" fill="rgb(21,21,21)" opacity="0.7"/>
<rect x="400.86" y="353.3" width="1.4" height="1.1" fill="rgb(53,53,53)" opacity="0.7"/>
<rect x="426.03" y="357.31" width="1.4" height="1.1" fill="rgb(47,47,47)" opacity="0.7"/>
<rect x="446.43" y="351.84" width="1.4" height="1.1" fill="rgb(20,20,20)" opacity="0.7"/>
<rect x="438.55" y="358.81" width="1.4" height="1.1" fill="rgb(29,29,29)" opacity="0.7"/>
<linearGradient id="plumeG" x1="0" y1="0" x2="0" y2="1"><stop offset="0" stop-color="#555"/><stop offset="0.5" stop-color="#7a7a7a"/><stop offset="1" stop-color="#9a9a9a"/></linearGradient>
<ellipse cx="425" cy="318" rx="20" ry="30" fill="#3a3a3a" filter="url(#b5)" opacity="0.8"/>
<path d="M428.8,271 C431.5,276 435.5,287 437.5,297 C439,306 440,314 441,322 L413,322 C415,310 418,298 421,288 C423,280 426,274 428.8,271 Z" fill="url(#plumeG)" filter="url(#b1)"/>
<rect x="424.67" y="305.91" width="0.85" height="0.85" fill="rgb(111,111,111)"/>
<rect x="429.05" y="274.51" width="0.85" height="0.85" fill="rgb(199,199,199)"/>
<rect x="429.49" y="314.58" width="0.85" height="0.85" fill="rgb(134,134,134)"/>
<rect x="429.34" y="281.82" width="0.85" height="0.85" fill="rgb(92,92,92)"/>
<rect x="430.24" y="275.52" width="0.85" height="0.85" fill="rgb(164,164,164)"/>
<rect x="417.53" y="308.15" width="0.85" height="0.85" fill="rgb(96,96,96)"/>
<rect x="423.19" y="301.53" width="0.85" height="0.85" fill="rgb(95,95,95)"/>
<rect x="429.02" y="280.33" width="0.85" height="0.85" fill="rgb(112,112,112)"/>
<rect x="432.58" y="287.48" width="0.85" height="0.85" fill="rgb(194,194,194)"/>
<rect x="426.87" y="293.95" width="0.85" height="0.85" fill="rgb(122,122,122)"/>
<rect x="427.34" y="317.16" width="0.85" height="0.85" fill="rgb(211,211,211)"/>
<rect x="429.35" y="276.11" width="0.85" height="0.85" fill="rgb(176,176,176)"/>
<rect x="421.86" y="306.05" width="0.85" height="0.85" fill="rgb(129,129,129)"/>
<rect x="430.88" y="291.34" width="0.85" height="0.85" fill="rgb(92,92,92)"/>
<rect x="421.75" y="309.47" width="0.85" height="0.85" fill="rgb(112,112,112)"/>
<rect x="427.52" y="280.82" width="0.85" height="0.85" fill="rgb(90,90,90)"/>
<rect x="422.41" y="317.69" width="0.85" height="0.85" fill="rgb(161,161,161)"/>
<rect x="426.16" y="289.7" width="0.85" height="0.85" fill="rgb(201,201,201)"/>
<rect x="426.91" y="290.74" width="0.85" height="0.85" fill="rgb(98,98,98)"/>
<rect x="425.58" y="317.22" width="0.85" height="0.85" fill="rgb(206,206,206)"/>
<rect x="425.16" y="289.16" width="0.85" height="0.85" fill="rgb(114,114,114)"/>
<rect x="425.74" y="294.48" width="0.85" height="0.85" fill="rgb(145,145,145)"/>
<rect x="429.2" y="274.61" width="0.85" height="0.85" fill="rgb(133,133,133)"/>
<rect x="421.62" y="310.02" width="0.85" height="0.85" fill="rgb(106,106,106)"/>
<rect x="427.26" y="277.26" width="0.85" height="0.85" fill="rgb(196,196,196)"/>
<rect x="428.91" y="309.22" width="0.85" height="0.85" fill="rgb(149,149,149)"/>
<rect x="434.91" y="311.47" width="0.85" height="0.85" fill="rgb(110,110,110)"/>
<rect x="424.68" y="289.92" width="0.85" height="0.85" fill="rgb(141,141,141)"/>
<rect x="433.88" y="290.34" width="0.85" height="0.85" fill="rgb(116,116,116)"/>
<rect x="427.99" y="286.67" width="0.85" height="0.85" fill="rgb(116,116,116)"/>
<rect x="427.91" y="283.45" width="0.85" height="0.85" fill="rgb(106,106,106)"/>
<rect x="439.42" y="316.34" width="0.85" height="0.85" fill="rgb(166,166,166)"/>
<rect x="429.62" y="314.38" width="0.85" height="0.85" fill="rgb(137,137,137)"/>
<rect x="426.38" y="297.59" width="0.85" height="0.85" fill="rgb(155,155,155)"/>
<rect x="431.46" y="282.78" width="0.85" height="0.85" fill="rgb(105,105,105)"/>
<rect x="419.58" y="304.18" width="0.85" height="0.85" fill="rgb(199,199,199)"/>
<rect x="430.94" y="285.44" width="0.85" height="0.85" fill="rgb(139,139,139)"/>
<rect x="429.38" y="274.32" width="0.85" height="0.85" fill="rgb(108,108,108)"/>
<rect x="427.03" y="287.3" width="0.85" height="0.85" fill="rgb(101,101,101)"/>
<rect x="433.43" y="304.95" width="0.85" height="0.85" fill="rgb(119,119,119)"/>
<rect x="430.02" y="287.77" width="0.85" height="0.85" fill="rgb(103,103,103)"/>
<rect x="430.47" y="276.13" width="0.85" height="0.85" fill="rgb(193,193,193)"/>
<rect x="424.83" y="296.02" width="0.85" height="0.85" fill="rgb(98,98,98)"/>
<rect x="419.04" y="306.06" width="0.85" height="0.85" fill="rgb(126,126,126)"/>
<rect x="429.79" y="278.8" width="0.85" height="0.85" fill="rgb(126,126,126)"/>
<rect x="432.29" y="289.37" width="0.85" height="0.85" fill="rgb(149,149,149)"/>
<rect x="436.29" y="308.65" width="0.85" height="0.85" fill="rgb(200,200,200)"/>
<rect x="438.05" y="312.7" width="0.85" height="0.85" fill="rgb(112,112,112)"/>
<rect x="429.24" y="274.36" width="0.85" height="0.85" fill="rgb(174,174,174)"/>
<rect x="435.87" y="304.78" width="0.85" height="0.85" fill="rgb(93,93,93)"/>
<rect x="431.72" y="303.32" width="0.85" height="0.85" fill="rgb(121,121,121)"/>
<rect x="425.01" y="319" width="0.85" height="0.85" fill="rgb(205,205,205)"/>
<rect x="421.85" y="301.93" width="0.85" height="0.85" fill="rgb(104,104,104)"/>
<rect x="429.35" y="285.46" width="0.85" height="0.85" fill="rgb(118,118,118)"/>
<rect x="418.11" y="305.78" width="0.85" height="0.85" fill="rgb(95,95,95)"/>
<rect x="426.6" y="300.99" width="0.85" height="0.85" fill="rgb(186,186,186)"/>
<rect x="426.97" y="286.94" width="0.85" height="0.85" fill="rgb(95,95,95)"/>
<rect x="430.13" y="298.41" width="0.85" height="0.85" fill="rgb(210,210,210)"/>
<rect x="430.94" y="281.26" width="0.85" height="0.85" fill="rgb(162,162,162)"/>
<rect x="428.33" y="295.9" width="0.85" height="0.85" fill="rgb(208,208,208)"/>
<rect x="430.65" y="293.01" width="0.85" height="0.85" fill="rgb(134,134,134)"/>
<rect x="418.16" y="316.04" width="0.85" height="0.85" fill="rgb(187,187,187)"/>
<rect x="422.85" y="308.72" width="0.85" height="0.85" fill="rgb(95,95,95)"/>
<rect x="429.59" y="313.26" width="0.85" height="0.85" fill="rgb(179,179,179)"/>
<rect x="427.47" y="275.18" width="0.85" height="0.85" fill="rgb(104,104,104)"/>
<rect x="427.84" y="274.71" width="0.85" height="0.85" fill="rgb(189,189,189)"/>
<rect x="433.49" y="315.07" width="0.85" height="0.85" fill="rgb(101,101,101)"/>
<rect x="431.4" y="292.19" width="0.85" height="0.85" fill="rgb(185,185,185)"/>
<rect x="422.69" y="301.31" width="0.85" height="0.85" fill="rgb(157,157,157)"/>
<rect x="430.84" y="277.14" width="0.85" height="0.85" fill="rgb(144,144,144)"/>
<rect x="425.81" y="293.36" width="0.85" height="0.85" fill="rgb(154,154,154)"/>
<rect x="434.85" y="306.98" width="0.85" height="0.85" fill="rgb(170,170,170)"/>
<rect x="428.01" y="301.79" width="0.85" height="0.85" fill="rgb(176,176,176)"/>
<rect x="426.29" y="305.12" width="0.85" height="0.85" fill="rgb(155,155,155)"/>
<rect x="434.26" y="311.94" width="0.85" height="0.85" fill="rgb(152,152,152)"/>
<rect x="417.56" y="308.05" width="0.85" height="0.85" fill="rgb(179,179,179)"/>
<rect x="429.02" y="310.96" width="0.85" height="0.85" fill="rgb(112,112,112)"/>
<rect x="435.82" y="298.13" width="0.85" height="0.85" fill="rgb(171,171,171)"/>
<rect x="426.17" y="283.86" width="0.85" height="0.85" fill="rgb(213,213,213)"/>
<rect x="427.89" y="275.73" width="0.85" height="0.85" fill="rgb(142,142,142)"/>
<rect x="429.22" y="277.26" width="0.85" height="0.85" fill="rgb(107,107,107)"/>
<rect x="429.77" y="279.28" width="0.85" height="0.85" fill="rgb(175,175,175)"/>
<rect x="431.14" y="295.21" width="0.85" height="0.85" fill="rgb(90,90,90)"/>
<rect x="427.1" y="296.71" width="0.85" height="0.85" fill="rgb(209,209,209)"/>
<rect x="431.62" y="302.48" width="0.85" height="0.85" fill="rgb(107,107,107)"/>
<rect x="418.94" y="313.7" width="0.85" height="0.85" fill="rgb(162,162,162)"/>
<rect x="429.48" y="284.08" width="0.85" height="0.85" fill="rgb(105,105,105)"/>
<rect x="432.32" y="298.22" width="0.85" height="0.85" fill="rgb(111,111,111)"/>
<rect x="420.86" y="304.14" width="0.85" height="0.85" fill="rgb(215,215,215)"/>
<rect x="431.94" y="294.21" width="0.85" height="0.85" fill="rgb(196,196,196)"/>
<rect x="429.91" y="282.49" width="0.85" height="0.85" fill="rgb(91,91,91)"/>
<rect x="424.62" y="289.58" width="0.85" height="0.85" fill="rgb(97,97,97)"/>
<rect x="422.82" y="314.21" width="0.85" height="0.85" fill="rgb(104,104,104)"/>
<rect x="426.68" y="305.27" width="0.85" height="0.85" fill="rgb(104,104,104)"/>
<rect x="428.02" y="280.42" width="0.85" height="0.85" fill="rgb(162,162,162)"/>
<rect x="424.13" y="289.7" width="0.85" height="0.85" fill="rgb(99,99,99)"/>
<rect x="428.41" y="275.1" width="0.85" height="0.85" fill="rgb(215,215,215)"/>
<rect x="418.58" y="307.52" width="0.85" height="0.85" fill="rgb(181,181,181)"/>
<rect x="430.92" y="288.26" width="0.85" height="0.85" fill="rgb(123,123,123)"/>
<rect x="428.41" y="278" width="0.85" height="0.85" fill="rgb(145,145,145)"/>
<rect x="432.36" y="295.46" width="0.85" height="0.85" fill="rgb(131,131,131)"/>
<rect x="429.94" y="273.38" width="0.85" height="0.85" fill="rgb(172,172,172)"/>
<rect x="429.41" y="286.15" width="0.85" height="0.85" fill="rgb(183,183,183)"/>
<rect x="422.98" y="303.02" width="0.85" height="0.85" fill="rgb(121,121,121)"/>
<rect x="429.74" y="276.59" width="0.85" height="0.85" fill="rgb(93,93,93)"/>
<rect x="435.32" y="308.62" width="0.85" height="0.85" fill="rgb(127,127,127)"/>
<rect x="433.83" y="289.92" width="0.85" height="0.85" fill="rgb(157,157,157)"/>
<rect x="437.83" y="311.9" width="0.85" height="0.85" fill="rgb(111,111,111)"/>
<rect x="429.7" y="277.7" width="0.85" height="0.85" fill="rgb(129,129,129)"/>
<rect x="423.95" y="307.15" width="0.85" height="0.85" fill="rgb(113,113,113)"/>
<rect x="425.05" y="302.78" width="0.85" height="0.85" fill="rgb(119,119,119)"/>
<rect x="428.79" y="289.95" width="0.85" height="0.85" fill="rgb(137,137,137)"/>
<rect x="421.68" y="311.54" width="0.85" height="0.85" fill="rgb(97,97,97)"/>
<rect x="428.82" y="274.9" width="0.85" height="0.85" fill="rgb(170,170,170)"/>
<rect x="439.49" y="315.37" width="0.85" height="0.85" fill="rgb(141,141,141)"/>
<rect x="438.19" y="314.64" width="0.85" height="0.85" fill="rgb(153,153,153)"/>
<rect x="431.24" y="292.46" width="0.85" height="0.85" fill="rgb(128,128,128)"/>
<rect x="430.18" y="300.72" width="0.85" height="0.85" fill="rgb(108,108,108)"/>
<rect x="420.93" y="304.65" width="0.85" height="0.85" fill="rgb(146,146,146)"/>
<rect x="425.96" y="302.29" width="0.85" height="0.85" fill="rgb(215,215,215)"/>
<rect x="428.31" y="274.84" width="0.85" height="0.85" fill="rgb(114,114,114)"/>
<rect x="427.25" y="283.04" width="0.85" height="0.85" fill="rgb(94,94,94)"/>
<rect x="436.12" y="311.68" width="0.85" height="0.85" fill="rgb(190,190,190)"/>
<rect x="422.32" y="296.52" width="0.85" height="0.85" fill="rgb(99,99,99)"/>
<rect x="428.09" y="303.43" width="0.85" height="0.85" fill="rgb(143,143,143)"/>
<rect x="417.04" y="313.97" width="0.85" height="0.85" fill="rgb(91,91,91)"/>
<rect x="434.25" y="303.64" width="0.85" height="0.85" fill="rgb(205,205,205)"/>
<rect x="425.15" y="306.34" width="0.85" height="0.85" fill="rgb(90,90,90)"/>
<rect x="428.97" y="293.39" width="0.85" height="0.85" fill="rgb(134,134,134)"/>
<rect x="427.38" y="299.11" width="0.85" height="0.85" fill="rgb(159,159,159)"/>
<rect x="427.77" y="287.89" width="0.85" height="0.85" fill="rgb(214,214,214)"/>
<rect x="430.03" y="297.6" width="0.85" height="0.85" fill="rgb(109,109,109)"/>
<rect x="438.51" y="317.82" width="0.85" height="0.85" fill="rgb(169,169,169)"/>
<rect x="430.07" y="276.75" width="0.85" height="0.85" fill="rgb(182,182,182)"/>
<rect x="429.98" y="304.12" width="0.85" height="0.85" fill="rgb(128,128,128)"/>
<rect x="426.56" y="298.99" width="0.85" height="0.85" fill="rgb(137,137,137)"/>
<rect x="430.25" y="295.11" width="0.85" height="0.85" fill="rgb(128,128,128)"/>
<rect x="428.29" y="312.8" width="0.85" height="0.85" fill="rgb(171,171,171)"/>
<rect x="427.41" y="274.28" width="0.85" height="0.85" fill="rgb(176,176,176)"/>
<rect x="431.85" y="307.03" width="0.85" height="0.85" fill="rgb(108,108,108)"/>
<rect x="425.29" y="303.38" width="0.85" height="0.85" fill="rgb(164,164,164)"/>
<rect x="424.11" y="316.39" width="0.85" height="0.85" fill="rgb(120,120,120)"/>
<rect x="426.14" y="298.98" width="0.85" height="0.85" fill="rgb(104,104,104)"/>
<rect x="432.42" y="283.45" width="0.85" height="0.85" fill="rgb(115,115,115)"/>
<rect x="421.42" y="298.21" width="0.85" height="0.85" fill="rgb(200,200,200)"/>
<rect x="431.19" y="311.52" width="0.85" height="0.85" fill="rgb(114,114,114)"/>
<rect x="423.89" y="297.42" width="0.85" height="0.85" fill="rgb(152,152,152)"/>
<rect x="427.96" y="283.44" width="0.85" height="0.85" fill="rgb(159,159,159)"/>
<rect x="421.17" y="299.34" width="0.85" height="0.85" fill="rgb(155,155,155)"/>
<rect x="429.11" y="314.83" width="0.85" height="0.85" fill="rgb(198,198,198)"/>
<rect x="422.45" y="291.77" width="0.85" height="0.85" fill="rgb(146,146,146)"/>
<rect x="428.46" y="279.18" width="0.85" height="0.85" fill="rgb(154,154,154)"/>
<rect x="433.14" y="305.87" width="0.85" height="0.85" fill="rgb(104,104,104)"/>
<rect x="436.5" y="301.82" width="0.85" height="0.85" fill="rgb(155,155,155)"/>
<rect x="430.32" y="277.7" width="0.85" height="0.85" fill="rgb(140,140,140)"/>
<rect x="435.77" y="298.04" width="0.85" height="0.85" fill="rgb(114,114,114)"/>
<rect x="432.65" y="298.9" width="0.85" height="0.85" fill="rgb(107,107,107)"/>
<rect x="429.63" y="290.17" width="0.85" height="0.85" fill="rgb(141,141,141)"/>
<rect x="427.17" y="283.9" width="0.85" height="0.85" fill="rgb(91,91,91)"/>
<rect x="437.18" y="305.29" width="0.85" height="0.85" fill="rgb(148,148,148)"/>
<rect x="430.43" y="286.8" width="0.85" height="0.85" fill="rgb(144,144,144)"/>
<rect x="417.61" y="314.79" width="0.85" height="0.85" fill="rgb(201,201,201)"/>
<rect x="425.24" y="282.27" width="0.85" height="0.85" fill="rgb(183,183,183)"/>
<rect x="419.59" y="313.06" width="0.85" height="0.85" fill="rgb(185,185,185)"/>
<rect x="434.89" y="311.71" width="0.85" height="0.85" fill="rgb(184,184,184)"/>
<rect x="434.34" y="304.3" width="0.85" height="0.85" fill="rgb(105,105,105)"/>
<rect x="428.43" y="284.01" width="0.85" height="0.85" fill="rgb(157,157,157)"/>
<rect x="432.79" y="316.61" width="0.85" height="0.85" fill="rgb(95,95,95)"/>
<rect x="424.16" y="310.56" width="0.85" height="0.85" fill="rgb(135,135,135)"/>
<rect x="433.04" y="298.25" width="0.85" height="0.85" fill="rgb(104,104,104)"/>
<rect x="430.14" y="274.57" width="0.85" height="0.85" fill="rgb(121,121,121)"/>
<rect x="425.41" y="284.71" width="0.85" height="0.85" fill="rgb(147,147,147)"/>
<rect x="430.3" y="273.98" width="0.85" height="0.85" fill="rgb(146,146,146)"/>
<rect x="425.66" y="278.22" width="0.85" height="0.85" fill="rgb(104,104,104)"/>
<rect x="427.34" y="276.39" width="0.85" height="0.85" fill="rgb(109,109,109)"/>
<rect x="424.37" y="298.5" width="0.85" height="0.85" fill="rgb(177,177,177)"/>
<rect x="434.48" y="303.8" width="0.85" height="0.85" fill="rgb(165,165,165)"/>
<rect x="428.47" y="313.27" width="0.85" height="0.85" fill="rgb(178,178,178)"/>
<rect x="422.55" y="308.03" width="0.85" height="0.85" fill="rgb(146,146,146)"/>
<rect x="428.06" y="273.63" width="0.85" height="0.85" fill="rgb(109,109,109)"/>
<rect x="427.77" y="295.41" width="0.85" height="0.85" fill="rgb(94,94,94)"/>
<rect x="416.88" y="309.82" width="0.85" height="0.85" fill="rgb(113,113,113)"/>
<rect x="430.55" y="301.54" width="0.85" height="0.85" fill="rgb(166,166,166)"/>
<rect x="427.82" y="291.06" width="0.85" height="0.85" fill="rgb(110,110,110)"/>
<rect x="426.72" y="304.87" width="0.85" height="0.85" fill="rgb(119,119,119)"/>
<rect x="430.21" y="313.16" width="0.85" height="0.85" fill="rgb(99,99,99)"/>
<rect x="428.51" y="289.6" width="0.85" height="0.85" fill="rgb(129,129,129)"/>
<rect x="429.67" y="314.12" width="0.85" height="0.85" fill="rgb(95,95,95)"/>
<rect x="431" y="282.72" width="0.85" height="0.85" fill="rgb(183,183,183)"/>
<rect x="429.18" y="294.52" width="0.85" height="0.85" fill="rgb(139,139,139)"/>
<rect x="423.02" y="316.12" width="0.85" height="0.85" fill="rgb(132,132,132)"/>
<rect x="424.98" y="299.64" width="0.85" height="0.85" fill="rgb(92,92,92)"/>
<rect x="431.79" y="284.44" width="0.85" height="0.85" fill="rgb(167,167,167)"/>
<rect x="427.08" y="275.09" width="0.85" height="0.85" fill="rgb(175,175,175)"/>
<rect x="427.66" y="279.61" width="0.85" height="0.85" fill="rgb(98,98,98)"/>
<rect x="424.29" y="296" width="0.85" height="0.85" fill="rgb(162,162,162)"/>
<rect x="429.38" y="299.38" width="0.85" height="0.85" fill="rgb(107,107,107)"/>
<rect x="416.23" y="318.64" width="0.85" height="0.85" fill="rgb(161,161,161)"/>
<rect x="417.8" y="314.52" width="0.85" height="0.85" fill="rgb(115,115,115)"/>
<rect x="430.67" y="308.62" width="0.85" height="0.85" fill="rgb(171,171,171)"/>
<rect x="430.09" y="277.55" width="0.85" height="0.85" fill="rgb(191,191,191)"/>
<rect x="436.24" y="309.58" width="0.85" height="0.85" fill="rgb(210,210,210)"/>
<rect x="425.62" y="279.49" width="0.85" height="0.85" fill="rgb(213,213,213)"/>
<rect x="433.01" y="308.11" width="0.85" height="0.85" fill="rgb(155,155,155)"/>
<rect x="421.46" y="312.25" width="0.85" height="0.85" fill="rgb(201,201,201)"/>
<rect x="426.35" y="298.33" width="0.85" height="0.85" fill="rgb(97,97,97)"/>
<rect x="431.32" y="305.39" width="0.85" height="0.85" fill="rgb(203,203,203)"/>
<rect x="426.97" y="318.47" width="0.85" height="0.85" fill="rgb(137,137,137)"/>
<rect x="434.95" y="314.13" width="0.85" height="0.85" fill="rgb(134,134,134)"/>
<rect x="426.42" y="279.94" width="0.85" height="0.85" fill="rgb(203,203,203)"/>
<rect x="426.43" y="313.06" width="0.85" height="0.85" fill="rgb(147,147,147)"/>
<rect x="431.66" y="291.22" width="0.85" height="0.85" fill="rgb(208,208,208)"/>
<rect x="425.25" y="280.77" width="0.85" height="0.85" fill="rgb(128,128,128)"/>
<rect x="422.5" y="306.11" width="0.85" height="0.85" fill="rgb(163,163,163)"/>
<rect x="435.33" y="298.36" width="0.85" height="0.85" fill="rgb(133,133,133)"/>
<rect x="427.01" y="276.38" width="0.85" height="0.85" fill="rgb(208,208,208)"/>
<rect x="426.89" y="276.68" width="0.85" height="0.85" fill="rgb(164,164,164)"/>
<rect x="427.79" y="289.26" width="0.85" height="0.85" fill="rgb(214,214,214)"/>
<rect x="426.06" y="308.62" width="0.85" height="0.85" fill="rgb(201,201,201)"/>
<rect x="435.62" y="315.41" width="0.85" height="0.85" fill="rgb(130,130,130)"/>
<rect x="422.14" y="314.36" width="0.85" height="0.85" fill="rgb(122,122,122)"/>
<rect x="432.28" y="298.14" width="0.85" height="0.85" fill="rgb(170,170,170)"/>
<rect x="430.27" y="285.33" width="0.85" height="0.85" fill="rgb(117,117,117)"/>
<rect x="428.32" y="275.19" width="0.85" height="0.85" fill="rgb(204,204,204)"/>
<rect x="434.5" y="300.73" width="0.85" height="0.85" fill="rgb(172,172,172)"/>
<rect x="427.06" y="277.58" width="0.85" height="0.85" fill="rgb(97,97,97)"/>
<rect x="429.87" y="317.3" width="0.85" height="0.85" fill="rgb(100,100,100)"/>
<rect x="430.05" y="276.38" width="0.85" height="0.85" fill="rgb(163,163,163)"/>
<rect x="423.98" y="288.69" width="0.85" height="0.85" fill="rgb(114,114,114)"/>
<rect x="429.67" y="285.45" width="0.85" height="0.85" fill="rgb(91,91,91)"/>
<rect x="435.92" y="302.44" width="0.85" height="0.85" fill="rgb(117,117,117)"/>
<rect x="432.3" y="287.79" width="0.85" height="0.85" fill="rgb(93,93,93)"/>
<rect x="425.99" y="302.85" width="0.85" height="0.85" fill="rgb(176,176,176)"/>
<rect x="420.1" y="309.82" width="0.85" height="0.85" fill="rgb(200,200,200)"/>
<rect x="421.99" y="292.06" width="0.85" height="0.85" fill="rgb(170,170,170)"/>
<rect x="432.95" y="301.19" width="0.85" height="0.85" fill="rgb(166,166,166)"/>
<rect x="433.87" y="291.38" width="0.85" height="0.85" fill="rgb(201,201,201)"/>
<rect x="430.01" y="273.63" width="0.85" height="0.85" fill="rgb(162,162,162)"/>
<rect x="424.18" y="303.09" width="0.85" height="0.85" fill="rgb(143,143,143)"/>
<rect x="432" y="301.24" width="0.85" height="0.85" fill="rgb(132,132,132)"/>
<rect x="425.07" y="280.21" width="0.85" height="0.85" fill="rgb(116,116,116)"/>
<rect x="430.19" y="279.56" width="0.85" height="0.85" fill="rgb(101,101,101)"/>
<rect x="426.51" y="289.46" width="0.85" height="0.85" fill="rgb(134,134,134)"/>
<rect x="429.42" y="297.78" width="0.85" height="0.85" fill="rgb(161,161,161)"/>
<rect x="431.72" y="280.06" width="0.85" height="0.85" fill="rgb(163,163,163)"/>
<rect x="430.94" y="288.22" width="0.85" height="0.85" fill="rgb(123,123,123)"/>
<rect x="427.1" y="310.42" width="0.85" height="0.85" fill="rgb(94,94,94)"/>
<rect x="423.37" y="308.7" width="0.85" height="0.85" fill="rgb(188,188,188)"/>
<rect x="431.42" y="298.28" width="0.85" height="0.85" fill="rgb(161,161,161)"/>
<rect x="428.5" y="285.8" width="0.85" height="0.85" fill="rgb(210,210,210)"/>
<rect x="425.82" y="285.6" width="0.85" height="0.85" fill="rgb(161,161,161)"/>
<rect x="430.36" y="294.89" width="0.85" height="0.85" fill="rgb(189,189,189)"/>
<rect x="419.04" y="317.94" width="0.85" height="0.85" fill="rgb(170,170,170)"/>
<rect x="430.57" y="283.5" width="0.85" height="0.85" fill="rgb(101,101,101)"/>
<rect x="430.47" y="316.1" width="0.85" height="0.85" fill="rgb(105,105,105)"/>
<rect x="428.54" y="275.77" width="0.85" height="0.85" fill="rgb(161,161,161)"/>
<rect x="422.23" y="308.76" width="0.85" height="0.85" fill="rgb(167,167,167)"/>
<rect x="423.88" y="289.82" width="0.85" height="0.85" fill="rgb(112,112,112)"/>
<rect x="436.09" y="313.06" width="0.85" height="0.85" fill="rgb(189,189,189)"/>
<rect x="425.07" y="280.46" width="0.85" height="0.85" fill="rgb(189,189,189)"/>
<rect x="426.53" y="305.64" width="0.85" height="0.85" fill="rgb(200,200,200)"/>
<rect x="430.12" y="295.95" width="0.85" height="0.85" fill="rgb(134,134,134)"/>
<rect x="424.86" y="314.45" width="0.85" height="0.85" fill="rgb(117,117,117)"/>
<rect x="432.71" y="287.9" width="0.85" height="0.85" fill="rgb(103,103,103)"/>
<rect x="418.29" y="303.36" width="0.85" height="0.85" fill="rgb(193,193,193)"/>
<rect x="425.93" y="302.69" width="0.85" height="0.85" fill="rgb(200,200,200)"/>
<rect x="424.96" y="289.13" width="0.85" height="0.85" fill="rgb(138,138,138)"/>
<rect x="433.7" y="291.86" width="0.85" height="0.85" fill="rgb(210,210,210)"/>
<rect x="434.86" y="303.22" width="0.85" height="0.85" fill="rgb(93,93,93)"/>
<rect x="426.08" y="284.59" width="0.85" height="0.85" fill="rgb(145,145,145)"/>
<rect x="426.98" y="284.12" width="0.85" height="0.85" fill="rgb(131,131,131)"/>
<rect x="430.85" y="307.92" width="0.85" height="0.85" fill="rgb(128,128,128)"/>
<rect x="427.51" y="313.45" width="0.85" height="0.85" fill="rgb(215,215,215)"/>
<rect x="421.96" y="299.2" width="0.85" height="0.85" fill="rgb(200,200,200)"/>
<rect x="433.94" y="315.96" width="0.85" height="0.85" fill="rgb(212,212,212)"/>
<rect x="434.78" y="307.57" width="0.85" height="0.85" fill="rgb(126,126,126)"/>
<rect x="425.9" y="277.07" width="0.85" height="0.85" fill="rgb(201,201,201)"/>
<rect x="419.41" y="313.98" width="0.85" height="0.85" fill="rgb(177,177,177)"/>
<rect x="436.26" y="301.07" width="0.85" height="0.85" fill="rgb(117,117,117)"/>
<rect x="434.64" y="299.64" width="0.85" height="0.85" fill="rgb(116,116,116)"/>
<rect x="433.23" y="312.16" width="0.85" height="0.85" fill="rgb(95,95,95)"/>
<rect x="435.89" y="308.87" width="0.85" height="0.85" fill="rgb(113,113,113)"/>
<rect x="423.05" y="293" width="0.85" height="0.85" fill="rgb(209,209,209)"/>
<rect x="423.25" y="286.69" width="0.85" height="0.85" fill="rgb(104,104,104)"/>
<rect x="431.24" y="279.99" width="0.85" height="0.85" fill="rgb(107,107,107)"/>
<rect x="419.13" y="314.93" width="0.85" height="0.85" fill="rgb(184,184,184)"/>
<rect x="431.16" y="289.18" width="0.85" height="0.85" fill="rgb(149,149,149)"/>
<rect x="419.5" y="304.41" width="0.85" height="0.85" fill="rgb(133,133,133)"/>
<rect x="431" y="302.54" width="0.85" height="0.85" fill="rgb(140,140,140)"/>
<rect x="439.05" y="313.57" width="0.85" height="0.85" fill="rgb(94,94,94)"/>
<rect x="422.6" y="299.92" width="0.85" height="0.85" fill="rgb(170,170,170)"/>
<rect x="418.36" y="304.72" width="0.85" height="0.85" fill="rgb(154,154,154)"/>
<rect x="429.23" y="300.38" width="0.85" height="0.85" fill="rgb(179,179,179)"/>
<rect x="425.77" y="277.82" width="0.85" height="0.85" fill="rgb(204,204,204)"/>
<rect x="432.38" y="287.56" width="0.85" height="0.85" fill="rgb(105,105,105)"/>
<rect x="438.75" y="317.03" width="0.85" height="0.85" fill="rgb(157,157,157)"/>
<rect x="423.66" y="292.71" width="0.85" height="0.85" fill="rgb(177,177,177)"/>
<rect x="430.17" y="297.86" width="0.85" height="0.85" fill="rgb(159,159,159)"/>
<rect x="421.94" y="296.03" width="0.85" height="0.85" fill="rgb(135,135,135)"/>
<rect x="438.57" y="311.62" width="0.85" height="0.85" fill="rgb(99,99,99)"/>
<rect x="424.82" y="289.07" width="0.85" height="0.85" fill="rgb(213,213,213)"/>
<rect x="420.81" y="317.72" width="0.85" height="0.85" fill="rgb(99,99,99)"/>
<rect x="425.08" y="285.56" width="0.85" height="0.85" fill="rgb(123,123,123)"/>
<rect x="432.84" y="285.37" width="0.85" height="0.85" fill="rgb(115,115,115)"/>
<rect x="426.54" y="296.4" width="0.85" height="0.85" fill="rgb(161,161,161)"/>
<rect x="421.87" y="316.79" width="0.85" height="0.85" fill="rgb(131,131,131)"/>
<rect x="430.89" y="304.65" width="0.85" height="0.85" fill="rgb(159,159,159)"/>
<rect x="426.55" y="285.98" width="0.85" height="0.85" fill="rgb(142,142,142)"/>
<rect x="436.4" y="318.19" width="0.85" height="0.85" fill="rgb(181,181,181)"/>
<rect x="427.52" y="285.36" width="0.85" height="0.85" fill="rgb(159,159,159)"/>
<rect x="434.51" y="292.28" width="0.85" height="0.85" fill="rgb(139,139,139)"/>
<rect x="436.15" y="308" width="0.85" height="0.85" fill="rgb(192,192,192)"/>
<rect x="431.72" y="279.58" width="0.85" height="0.85" fill="rgb(90,90,90)"/>
<rect x="428.32" y="284" width="0.85" height="0.85" fill="rgb(122,122,122)"/>
<rect x="432.48" y="304.91" width="0.85" height="0.85" fill="rgb(120,120,120)"/>
<rect x="431.5" y="310.98" width="0.85" height="0.85" fill="rgb(101,101,101)"/>
<rect x="434.4" y="311.78" width="0.85" height="0.85" fill="rgb(206,206,206)"/>
<rect x="425.76" y="305.95" width="0.85" height="0.85" fill="rgb(161,161,161)"/>
<rect x="429.84" y="287.92" width="0.85" height="0.85" fill="rgb(160,160,160)"/>
<rect x="426.92" y="303.73" width="0.85" height="0.85" fill="rgb(163,163,163)"/>
<rect x="429.34" y="273.04" width="0.85" height="0.85" fill="rgb(199,199,199)"/>
<rect x="425.69" y="294.65" width="0.85" height="0.85" fill="rgb(159,159,159)"/>
<rect x="421.03" y="318.76" width="0.85" height="0.85" fill="rgb(170,170,170)"/>
<rect x="436.13" y="309.4" width="0.85" height="0.85" fill="rgb(135,135,135)"/>
<rect x="425.52" y="305.76" width="0.85" height="0.85" fill="rgb(157,157,157)"/>
<rect x="429.83" y="285.25" width="0.85" height="0.85" fill="rgb(195,195,195)"/>
<rect x="429.65" y="287.82" width="0.85" height="0.85" fill="rgb(159,159,159)"/>
<rect x="436.17" y="303.56" width="0.85" height="0.85" fill="rgb(187,187,187)"/>
<rect x="432.24" y="285.19" width="0.85" height="0.85" fill="rgb(150,150,150)"/>
<rect x="423.92" y="312.45" width="0.85" height="0.85" fill="rgb(165,165,165)"/>
<rect x="423.84" y="294.92" width="0.85" height="0.85" fill="rgb(108,108,108)"/>
<rect x="429.72" y="276.03" width="0.85" height="0.85" fill="rgb(136,136,136)"/>
<rect x="428.42" y="297.1" width="0.85" height="0.85" fill="rgb(194,194,194)"/>
<rect x="430.28" y="289.83" width="0.85" height="0.85" fill="rgb(109,109,109)"/>
<rect x="426.67" y="310.81" width="0.85" height="0.85" fill="rgb(171,171,171)"/>
<rect x="436" y="316.58" width="0.85" height="0.85" fill="rgb(173,173,173)"/>
<rect x="416.6" y="312.92" width="0.85" height="0.85" fill="rgb(138,138,138)"/>
<rect x="432.57" y="289.64" width="0.85" height="0.85" fill="rgb(144,144,144)"/>
<rect x="426.34" y="278.66" width="0.85" height="0.85" fill="rgb(122,122,122)"/>
<rect x="426.47" y="290.26" width="0.85" height="0.85" fill="rgb(174,174,174)"/>
<rect x="428.13" y="309.95" width="0.85" height="0.85" fill="rgb(147,147,147)"/>
<rect x="423.38" y="303.46" width="0.85" height="0.85" fill="rgb(127,127,127)"/>
<rect x="432.08" y="318.86" width="0.85" height="0.85" fill="rgb(147,147,147)"/>
<rect x="432.22" y="302.19" width="0.85" height="0.85" fill="rgb(112,112,112)"/>
<rect x="419.94" y="307.9" width="0.85" height="0.85" fill="rgb(177,177,177)"/>
<rect x="428.37" y="279" width="0.85" height="0.85" fill="rgb(174,174,174)"/>
<rect x="427.15" y="283.93" width="0.85" height="0.85" fill="rgb(133,133,133)"/>
<rect x="421.9" y="309.87" width="0.85" height="0.85" fill="rgb(161,161,161)"/>
<rect x="428.93" y="282.24" width="0.85" height="0.85" fill="rgb(97,97,97)"/>
<rect x="424.43" y="300.17" width="0.85" height="0.85" fill="rgb(159,159,159)"/>
<rect x="426.52" y="285.63" width="0.85" height="0.85" fill="rgb(120,120,120)"/>
<rect x="427.68" y="285.21" width="0.85" height="0.85" fill="rgb(157,157,157)"/>
<rect x="434.67" y="302.26" width="0.85" height="0.85" fill="rgb(115,115,115)"/>
<rect x="431.3" y="278.9" width="0.85" height="0.85" fill="rgb(127,127,127)"/>
<rect x="425.47" y="301.42" width="0.85" height="0.85" fill="rgb(95,95,95)"/>
<rect x="425.12" y="306" width="0.85" height="0.85" fill="rgb(95,95,95)"/>
<rect x="423.45" y="305.78" width="0.85" height="0.85" fill="rgb(142,142,142)"/>
<rect x="429.57" y="292.82" width="0.85" height="0.85" fill="rgb(122,122,122)"/>
<rect x="426.82" y="289.21" width="0.85" height="0.85" fill="rgb(164,164,164)"/>
<rect x="429.19" y="278.96" width="0.85" height="0.85" fill="rgb(215,215,215)"/>
<rect x="432.52" y="317.68" width="0.85" height="0.85" fill="rgb(137,137,137)"/>
<rect x="427.16" y="275.91" width="0.85" height="0.85" fill="rgb(200,200,200)"/>
<rect x="429.74" y="276.26" width="0.85" height="0.85" fill="rgb(138,138,138)"/>
<rect x="427.03" y="291.09" width="0.85" height="0.85" fill="rgb(209,209,209)"/>
<rect x="433.69" y="314.46" width="0.85" height="0.85" fill="rgb(93,93,93)"/>
<rect x="428.83" y="277.96" width="0.85" height="0.85" fill="rgb(209,209,209)"/>
<rect x="433.02" y="294.26" width="0.85" height="0.85" fill="rgb(143,143,143)"/>
<rect x="419.64" y="318.77" width="0.85" height="0.85" fill="rgb(98,98,98)"/>
<rect x="427.95" y="293.23" width="0.85" height="0.85" fill="rgb(155,155,155)"/>
<rect x="416.92" y="307.63" width="0.85" height="0.85" fill="rgb(119,119,119)"/>
<rect x="425.58" y="307.06" width="0.85" height="0.85" fill="rgb(95,95,95)"/>
<rect x="422.54" y="315.59" width="0.85" height="0.85" fill="rgb(132,132,132)"/>
<rect x="433.72" y="308.38" width="0.85" height="0.85" fill="rgb(105,105,105)"/>
<rect x="430.33" y="277.14" width="0.85" height="0.85" fill="rgb(163,163,163)"/>
<rect x="418.22" y="310.6" width="0.85" height="0.85" fill="rgb(101,101,101)"/>
<rect x="420.76" y="312.02" width="0.85" height="0.85" fill="rgb(148,148,148)"/>
<rect x="429.33" y="275.53" width="0.85" height="0.85" fill="rgb(181,181,181)"/>
<rect x="432.36" y="288.44" width="0.85" height="0.85" fill="rgb(160,160,160)"/>
<rect x="426.1" y="304.79" width="0.85" height="0.85" fill="rgb(164,164,164)"/>
<rect x="427.82" y="279.45" width="0.85" height="0.85" fill="rgb(96,96,96)"/>
<ellipse cx="424" cy="330" rx="26" ry="30" fill="url(#glowG)"/>
<path d="M428,306 C438,310 443,323 441,337 C440,346 437,352 431,353 L417,353 C411,350 407,342 407.5,333 C409,320 418,308 428,306 Z" fill="#e2e2e2" filter="url(#b3)"/>
<path d="M427,312 C435,315 439,324 438,335 C437,343 434,350 430,352 L420,352 C415,348 413,341 413,334 C414,323 419,313 427,312 Z" fill="#ffffff" filter="url(#b1)"/>
<path d="M424,337 L420.8,353 L427.2,353 Z" fill="#9a9a9a" filter="url(#b1)"/>
<path d="M410,340 Q412,348 415,353 L405,353 Z" fill="#8a8a8a" filter="url(#b2)"/>
<ellipse cx="426" cy="354" rx="16" ry="4" fill="#9a9a9a" filter="url(#b2)" opacity="0.7"/>
</g>
<clipPath id="clip2"><rect x="466.5" y="199.0" width="66.0" height="166.0"/></clipPath>
<g clip-path="url(#clip2)">
<rect x="466.5" y="199.0" width="66.0" height="166.0" fill="url(#fbgH)"/>
<rect x="466.5" y="199.0" width="66.0" height="166.0" fill="url(#fbgV)"/>
<ellipse cx="498" cy="356.55" rx="22" ry="6" fill="#505050" filter="url(#b3)"/>
<rect x="522.74" y="353.67" width="1.4" height="1.1" fill="rgb(41,41,41)" opacity="0.7"/>
<rect x="478.77" y="363.3" width="1.4" height="1.1" fill="rgb(31,31,31)" opacity="0.7"/>
<rect x="530.27" y="355.16" width="1.4" height="1.1" fill="rgb(36,36,36)" opacity="0.7"/>
<rect x="472.09" y="356.41" width="1.4" height="1.1" fill="rgb(39,39,39)" opacity="0.7"/>
<rect x="502.34" y="357.88" width="1.4" height="1.1" fill="rgb(46,46,46)" opacity="0.7"/>
<rect x="510.43" y="355.53" width="1.4" height="1.1" fill="rgb(35,35,35)" opacity="0.7"/>
<rect x="522.41" y="361.22" width="1.4" height="1.1" fill="rgb(54,54,54)" opacity="0.7"/>
<rect x="483.08" y="354.32" width="1.4" height="1.1" fill="rgb(23,23,23)" opacity="0.7"/>
<rect x="479.88" y="359.5" width="1.4" height="1.1" fill="rgb(49,49,49)" opacity="0.7"/>
<rect x="508.83" y="360.16" width="1.4" height="1.1" fill="rgb(29,29,29)" opacity="0.7"/>
<rect x="490.09" y="361.22" width="1.4" height="1.1" fill="rgb(32,32,32)" opacity="0.7"/>
<rect x="495.94" y="360.13" width="1.4" height="1.1" fill="rgb(23,23,23)" opacity="0.7"/>
<rect x="513.54" y="352.1" width="1.4" height="1.1" fill="rgb(24,24,24)" opacity="0.7"/>
<rect x="492.88" y="358.5" width="1.4" height="1.1" fill="rgb(40,40,40)" opacity="0.7"/>
<rect x="468.78" y="354.53" width="1.4" height="1.1" fill="rgb(48,48,48)" opacity="0.7"/>
<rect x="485.3" y="360.17" width="1.4" height="1.1" fill="rgb(57,57,57)" opacity="0.7"/>
<rect x="505.89" y="356.67" width="1.4" height="1.1" fill="rgb(48,48,48)" opacity="0.7"/>
<rect x="479.65" y="354.34" width="1.4" height="1.1" fill="rgb(31,31,31)" opacity="0.7"/>
<rect x="494.47" y="359.35" width="1.4" height="1.1" fill="rgb(23,23,23)" opacity="0.7"/>
<rect x="475.34" y="362.12" width="1.4" height="1.1" fill="rgb(58,58,58)" opacity="0.7"/>
<rect x="498.57" y="352.16" width="1.4" height="1.1" fill="rgb(55,55,55)" opacity="0.7"/>
<rect x="514.05" y="353.89" width="1.4" height="1.1" fill="rgb(34,34,34)" opacity="0.7"/>
<rect x="509.96" y="359.76" width="1.4" height="1.1" fill="rgb(38,38,38)" opacity="0.7"/>
<rect x="518.22" y="358.15" width="1.4" height="1.1" fill="rgb(30,30,30)" opacity="0.7"/>
<rect x="475.9" y="362.56" width="1.4" height="1.1" fill="rgb(33,33,33)" opacity="0.7"/>
<rect x="499.8" y="357.36" width="1.4" height="1.1" fill="rgb(32,32,32)" opacity="0.7"/>
<rect x="517.08" y="362.94" width="1.4" height="1.1" fill="rgb(46,46,46)" opacity="0.7"/>
<rect x="480.93" y="361.59" width="1.4" height="1.1" fill="rgb(48,48,48)" opacity="0.7"/>
<rect x="510.74" y="353.78" width="1.4" height="1.1" fill="rgb(23,23,23)" opacity="0.7"/>
<rect x="526.09" y="353.53" width="1.4" height="1.1" fill="rgb(30,30,30)" opacity="0.7"/>
<rect x="520.43" y="355.38" width="1.4" height="1.1" fill="rgb(34,34,34)" opacity="0.7"/>
<rect x="522.92" y="361.17" width="1.4" height="1.1" fill="rgb(55,55,55)" opacity="0.7"/>
<rect x="512.9" y="355.56" width="1.4" height="1.1" fill="rgb(36,36,36)" opacity="0.7"/>
<rect x="487.42" y="361.68" width="1.4" height="1.1" fill="rgb(29,29,29)" opacity="0.7"/>
<rect x="527.49" y="359.65" width="1.4" height="1.1" fill="rgb(34,34,34)" opacity="0.7"/>
<rect x="491.75" y="352.38" width="1.4" height="1.1" fill="rgb(44,44,44)" opacity="0.7"/>
<rect x="476.56" y="355.35" width="1.4" height="1.1" fill="rgb(54,54,54)" opacity="0.7"/>
<rect x="511.28" y="354.28" width="1.4" height="1.1" fill="rgb(29,29,29)" opacity="0.7"/>
<rect x="513.47" y="356.94" width="1.4" height="1.1" fill="rgb(45,45,45)" opacity="0.7"/>
<rect x="473.88" y="361.53" width="1.4" height="1.1" fill="rgb(27,27,27)" opacity="0.7"/>
<ellipse cx="497" cy="300" rx="32" ry="100" fill="url(#glowG)" opacity="0.7"/>
<ellipse cx="497" cy="272" rx="22" ry="62" fill="url(#glowG)" opacity="0.55"/>
<ellipse cx="497" cy="305" rx="18" ry="40" fill="url(#glowG)" opacity="0.6"/>
<ellipse cx="498" cy="331" rx="17" ry="23" fill="#c8c8c8" filter="url(#b5)" opacity="0.85"/>
<path d="M499,312.5 C504,314 508,321 507.5,330 C507,337 505,341 504.5,345 L504.5,352.5 L500.5,352.5 C499.5,348 497.5,346 493.5,345 C489,343 487.5,337 488,330 C488.8,320 493.5,313 499,312.5 Z" fill="#f6f6f6" filter="url(#b1)"/>
<path d="M497,316 C499.5,317 500,324 499.5,332 C499,338 498,341 495,342 C491.5,340 490.5,334 491,328 C491.8,321 494,316.5 497,316 Z" fill="#ffffff" filter="url(#b06)"/>
<ellipse cx="497.6" cy="355" rx="3" ry="2" fill="#cfcfcf" filter="url(#b06)"/>
<ellipse cx="497" cy="355" rx="12" ry="3" fill="#777" filter="url(#b2)" opacity="0.6"/>
</g>
<clipPath id="clip3"><rect x="538.3" y="199.0" width="66.0" height="166.0"/></clipPath>
<g clip-path="url(#clip3)">
<rect x="538.3" y="199.0" width="66.0" height="166.0" fill="url(#fbgH)"/>
<rect x="538.3" y="199.0" width="66.0" height="166.0" fill="url(#fbgV)"/>
<ellipse cx="571" cy="262" rx="30" ry="62" fill="url(#glowD)" opacity="0.75"/>
<ellipse cx="573.9" cy="356.55" rx="16" ry="5" fill="#383838" filter="url(#b3)"/>
<rect x="580.71" y="354.42" width="1.4" height="1.1" fill="rgb(40,40,40)" opacity="0.7"/>
<rect x="598.89" y="358.05" width="1.4" height="1.1" fill="rgb(29,29,29)" opacity="0.7"/>
<rect x="569.9" y="352.2" width="1.4" height="1.1" fill="rgb(35,35,35)" opacity="0.7"/>
<rect x="595.67" y="362.5" width="1.4" height="1.1" fill="rgb(26,26,26)" opacity="0.7"/>
<rect x="569.57" y="361.94" width="1.4" height="1.1" fill="rgb(39,39,39)" opacity="0.7"/>
<rect x="575.96" y="360.7" width="1.4" height="1.1" fill="rgb(26,26,26)" opacity="0.7"/>
<rect x="547.31" y="355.12" width="1.4" height="1.1" fill="rgb(27,27,27)" opacity="0.7"/>
<rect x="575.63" y="355.45" width="1.4" height="1.1" fill="rgb(38,38,38)" opacity="0.7"/>
<rect x="576.92" y="363.12" width="1.4" height="1.1" fill="rgb(31,31,31)" opacity="0.7"/>
<rect x="550.84" y="353.75" width="1.4" height="1.1" fill="rgb(29,29,29)" opacity="0.7"/>
<rect x="541.53" y="355.83" width="1.4" height="1.1" fill="rgb(34,34,34)" opacity="0.7"/>
<rect x="569.33" y="355.79" width="1.4" height="1.1" fill="rgb(31,31,31)" opacity="0.7"/>
<rect x="549.84" y="361.06" width="1.4" height="1.1" fill="rgb(29,29,29)" opacity="0.7"/>
<rect x="590.48" y="360.32" width="1.4" height="1.1" fill="rgb(34,34,34)" opacity="0.7"/>
<rect x="544.47" y="358.34" width="1.4" height="1.1" fill="rgb(25,25,25)" opacity="0.7"/>
<rect x="576.72" y="357.31" width="1.4" height="1.1" fill="rgb(21,21,21)" opacity="0.7"/>
<rect x="540.85" y="358.66" width="1.4" height="1.1" fill="rgb(33,33,33)" opacity="0.7"/>
<rect x="580.02" y="353.52" width="1.4" height="1.1" fill="rgb(38,38,38)" opacity="0.7"/>
<rect x="592.3" y="352.88" width="1.4" height="1.1" fill="rgb(41,41,41)" opacity="0.7"/>
<rect x="585.66" y="356.13" width="1.4" height="1.1" fill="rgb(41,41,41)" opacity="0.7"/>
<rect x="599.03" y="355.81" width="1.4" height="1.1" fill="rgb(40,40,40)" opacity="0.7"/>
<rect x="594.64" y="357.52" width="1.4" height="1.1" fill="rgb(24,24,24)" opacity="0.7"/>
<rect x="555.15" y="353.23" width="1.4" height="1.1" fill="rgb(27,27,27)" opacity="0.7"/>
<rect x="545.85" y="357.71" width="1.4" height="1.1" fill="rgb(37,37,37)" opacity="0.7"/>
<rect x="573.2" y="355.73" width="1.4" height="1.1" fill="rgb(27,27,27)" opacity="0.7"/>
<rect x="548.88" y="358.16" width="1.4" height="1.1" fill="rgb(36,36,36)" opacity="0.7"/>
<rect x="554.83" y="362.92" width="1.4" height="1.1" fill="rgb(29,29,29)" opacity="0.7"/>
<rect x="564.34" y="354.34" width="1.4" height="1.1" fill="rgb(24,24,24)" opacity="0.7"/>
<rect x="596.89" y="360.36" width="1.4" height="1.1" fill="rgb(37,37,37)" opacity="0.7"/>
<rect x="570.67" y="362.24" width="1.4" height="1.1" fill="rgb(20,20,20)" opacity="0.7"/>
<path d="M572,299 C575.5,308 582,319 581,334 C579,348 574,352 572,352 C570,352 565,348 563,334 C562,319 568.5,308 572,299 Z" fill="#282828" stroke="#4c4c4c" stroke-width="4" filter="url(#b2)"/>
<path d="M572,299 C575.5,308 582,319 581,334 C579,348 574,352 572,352 C570,352 565,348 563,334 C562,319 568.5,308 572,299 Z" fill="none" stroke="#626262" stroke-width="1.4" filter="url(#b1)" opacity="0.8"/>
<path d="M563.5,318 C562,332 566,346 572.1,351" fill="none" stroke="#959595" stroke-width="2.8" filter="url(#b1)"/>
<rect x="570.92" y="299.59" width="0.9" height="0.9" fill="rgb(110,110,110)"/>
<rect x="572.68" y="309.87" width="0.9" height="0.9" fill="rgb(104,104,104)"/>
<rect x="568.24" y="309.16" width="0.9" height="0.9" fill="rgb(70,70,70)"/>
<rect x="571.31" y="300.3" width="0.9" height="0.9" fill="rgb(61,61,61)"/>
<rect x="572.71" y="304.36" width="0.9" height="0.9" fill="rgb(67,67,67)"/>
<rect x="573.7" y="302.38" width="0.9" height="0.9" fill="rgb(65,65,65)"/>
<rect x="569.66" y="307.96" width="0.9" height="0.9" fill="rgb(75,75,75)"/>
<rect x="574.14" y="306.93" width="0.9" height="0.9" fill="rgb(105,105,105)"/>
<rect x="575.18" y="310.29" width="0.9" height="0.9" fill="rgb(64,64,64)"/>
<rect x="575.67" y="306.99" width="0.9" height="0.9" fill="rgb(62,62,62)"/>
<rect x="572.97" y="301.22" width="0.9" height="0.9" fill="rgb(71,71,71)"/>
<rect x="570.44" y="310.22" width="0.9" height="0.9" fill="rgb(111,111,111)"/>
<rect x="572.85" y="309.39" width="0.9" height="0.9" fill="rgb(71,71,71)"/>
<rect x="572.62" y="298.16" width="0.9" height="0.9" fill="rgb(86,86,86)"/>
<rect x="567.53" y="309.8" width="0.9" height="0.9" fill="rgb(110,110,110)"/>
<rect x="572.9" y="301.67" width="0.9" height="0.9" fill="rgb(103,103,103)"/>
<rect x="572.91" y="300.51" width="0.9" height="0.9" fill="rgb(109,109,109)"/>
<rect x="571.16" y="300.11" width="0.9" height="0.9" fill="rgb(74,74,74)"/>
<rect x="573.77" y="308.29" width="0.9" height="0.9" fill="rgb(64,64,64)"/>
<rect x="575.43" y="312.96" width="0.9" height="0.9" fill="rgb(90,90,90)"/>
<rect x="572.04" y="298.57" width="0.9" height="0.9" fill="rgb(81,81,81)"/>
<rect x="574.72" y="311.62" width="0.9" height="0.9" fill="rgb(100,100,100)"/>
<rect x="572.72" y="298.94" width="0.9" height="0.9" fill="rgb(63,63,63)"/>
<rect x="574.92" y="310.69" width="0.9" height="0.9" fill="rgb(65,65,65)"/>
<rect x="575.83" y="307.76" width="0.9" height="0.9" fill="rgb(97,97,97)"/>
<ellipse cx="573.2" cy="343" rx="9" ry="14" fill="#a0a0a0" filter="url(#b3)" opacity="0.8"/>
<path d="M568.4,334 L576,334 L578.3,353.2 L572.1,353.2 Z" fill="#ffffff" filter="url(#b06)"/>
<ellipse cx="572.9" cy="357" rx="9" ry="3.5" fill="#4a4a4a" filter="url(#b2)" opacity="0.8"/>
<circle cx="570.9" cy="355.5" r="2.2" fill="#e0e0e0" filter="url(#b06)"/>
</g>
<clipPath id="clip4"><rect x="610.1" y="199.0" width="66.0" height="166.0"/></clipPath>
<g clip-path="url(#clip4)">
<rect x="610.1" y="199.0" width="66.0" height="166.0" fill="url(#fbgH)"/>
<rect x="610.1" y="199.0" width="66.0" height="166.0" fill="url(#fbgV)"/>
<ellipse cx="644.6" cy="356.55" rx="16" ry="5" fill="#383838" filter="url(#b3)"/>
<rect x="620.56" y="363.11" width="1.4" height="1.1" fill="rgb(41,41,41)" opacity="0.7"/>
<rect x="659.9" y="357.71" width="1.4" height="1.1" fill="rgb(28,28,28)" opacity="0.7"/>
<rect x="663.53" y="362.78" width="1.4" height="1.1" fill="rgb(21,21,21)" opacity="0.7"/>
<rect x="658.15" y="361.57" width="1.4" height="1.1" fill="rgb(41,41,41)" opacity="0.7"/>
<rect x="648.18" y="357.01" width="1.4" height="1.1" fill="rgb(40,40,40)" opacity="0.7"/>
<rect x="660.7" y="362.01" width="1.4" height="1.1" fill="rgb(29,29,29)" opacity="0.7"/>
<rect x="658.35" y="358.83" width="1.4" height="1.1" fill="rgb(40,40,40)" opacity="0.7"/>
<rect x="671.11" y="353.33" width="1.4" height="1.1" fill="rgb(28,28,28)" opacity="0.7"/>
<rect x="658.52" y="361.75" width="1.4" height="1.1" fill="rgb(27,27,27)" opacity="0.7"/>
<rect x="622.87" y="357.27" width="1.4" height="1.1" fill="rgb(27,27,27)" opacity="0.7"/>
<rect x="666.7" y="358.61" width="1.4" height="1.1" fill="rgb(41,41,41)" opacity="0.7"/>
<rect x="667.48" y="352.58" width="1.4" height="1.1" fill="rgb(41,41,41)" opacity="0.7"/>
<rect x="660.66" y="361.13" width="1.4" height="1.1" fill="rgb(41,41,41)" opacity="0.7"/>
<rect x="660.02" y="355.94" width="1.4" height="1.1" fill="rgb(32,32,32)" opacity="0.7"/>
<rect x="636.3" y="353" width="1.4" height="1.1" fill="rgb(40,40,40)" opacity="0.7"/>
<rect x="653.44" y="361.11" width="1.4" height="1.1" fill="rgb(41,41,41)" opacity="0.7"/>
<rect x="648.47" y="361.62" width="1.4" height="1.1" fill="rgb(29,29,29)" opacity="0.7"/>
<rect x="610.39" y="357.62" width="1.4" height="1.1" fill="rgb(20,20,20)" opacity="0.7"/>
<rect x="671.44" y="362.1" width="1.4" height="1.1" fill="rgb(35,35,35)" opacity="0.7"/>
<rect x="637.1" y="358.95" width="1.4" height="1.1" fill="rgb(34,34,34)" opacity="0.7"/>
<rect x="619.51" y="358.27" width="1.4" height="1.1" fill="rgb(22,22,22)" opacity="0.7"/>
<rect x="632.91" y="361.71" width="1.4" height="1.1" fill="rgb(39,39,39)" opacity="0.7"/>
<rect x="612.2" y="355.86" width="1.4" height="1.1" fill="rgb(28,28,28)" opacity="0.7"/>
<rect x="622.18" y="362.23" width="1.4" height="1.1" fill="rgb(33,33,33)" opacity="0.7"/>
<rect x="652.73" y="361.28" width="1.4" height="1.1" fill="rgb(23,23,23)" opacity="0.7"/>
<rect x="624.05" y="359.21" width="1.4" height="1.1" fill="rgb(32,32,32)" opacity="0.7"/>
<rect x="663.18" y="354.12" width="1.4" height="1.1" fill="rgb(28,28,28)" opacity="0.7"/>
<rect x="631.56" y="353.74" width="1.4" height="1.1" fill="rgb(25,25,25)" opacity="0.7"/>
<rect x="624.56" y="362.23" width="1.4" height="1.1" fill="rgb(39,39,39)" opacity="0.7"/>
<rect x="666.99" y="363.05" width="1.4" height="1.1" fill="rgb(29,29,29)" opacity="0.7"/>
<path d="M645,291.5 C648.85,300.5 656,317 654.9,332 C652.7,348 647.2,352 645,352 C642.8,352 637.3,348 635.1,332 C634,317 641.15,300.5 645,291.5 Z" fill="#282828" stroke="#4c4c4c" stroke-width="4" filter="url(#b2)"/>
<path d="M645,291.5 C648.85,300.5 656,317 654.9,332 C652.7,348 647.2,352 645,352 C642.8,352 637.3,348 635.1,332 C634,317 641.15,300.5 645,291.5 Z" fill="none" stroke="#626262" stroke-width="1.4" filter="url(#b1)" opacity="0.8"/>
<path d="M635.65,316 C634,330 638.4,346 643.1,351" fill="none" stroke="#959595" stroke-width="2.8" filter="url(#b1)"/>
<rect x="647.98" y="298" width="0.9" height="0.9" fill="rgb(92,92,92)"/>
<rect x="646.02" y="302.36" width="0.9" height="0.9" fill="rgb(114,114,114)"/>
<rect x="641.61" y="302.96" width="0.9" height="0.9" fill="rgb(93,93,93)"/>
<rect x="645.49" y="290.64" width="0.9" height="0.9" fill="rgb(66,66,66)"/>
<rect x="644.49" y="304.68" width="0.9" height="0.9" fill="rgb(111,111,111)"/>
<rect x="646.94" y="300.36" width="0.9" height="0.9" fill="rgb(103,103,103)"/>
<rect x="645.12" y="292.01" width="0.9" height="0.9" fill="rgb(115,115,115)"/>
<rect x="646.53" y="301.8" width="0.9" height="0.9" fill="rgb(68,68,68)"/>
<rect x="649.35" y="304.43" width="0.9" height="0.9" fill="rgb(102,102,102)"/>
<rect x="645.08" y="296.74" width="0.9" height="0.9" fill="rgb(81,81,81)"/>
<rect x="647.73" y="297.16" width="0.9" height="0.9" fill="rgb(83,83,83)"/>
<rect x="645.94" y="295.08" width="0.9" height="0.9" fill="rgb(103,103,103)"/>
<rect x="645.12" y="296.14" width="0.9" height="0.9" fill="rgb(103,103,103)"/>
<rect x="645.3" y="291.4" width="0.9" height="0.9" fill="rgb(91,91,91)"/>
<rect x="647.44" y="295.96" width="0.9" height="0.9" fill="rgb(63,63,63)"/>
<rect x="649.07" y="303.63" width="0.9" height="0.9" fill="rgb(67,67,67)"/>
<rect x="644.63" y="298.86" width="0.9" height="0.9" fill="rgb(108,108,108)"/>
<rect x="642.68" y="298.19" width="0.9" height="0.9" fill="rgb(98,98,98)"/>
<rect x="640.74" y="301.75" width="0.9" height="0.9" fill="rgb(80,80,80)"/>
<rect x="641.86" y="297.74" width="0.9" height="0.9" fill="rgb(119,119,119)"/>
<rect x="641.21" y="303.87" width="0.9" height="0.9" fill="rgb(97,97,97)"/>
<rect x="645.09" y="304.27" width="0.9" height="0.9" fill="rgb(85,85,85)"/>
<rect x="645.28" y="293.1" width="0.9" height="0.9" fill="rgb(77,77,77)"/>
<rect x="642.96" y="299.91" width="0.9" height="0.9" fill="rgb(109,109,109)"/>
<rect x="644.44" y="298.66" width="0.9" height="0.9" fill="rgb(86,86,86)"/>
<ellipse cx="644.8" cy="343" rx="9" ry="14" fill="#a0a0a0" filter="url(#b3)" opacity="0.8"/>
<path d="M639.7,334 L647.9,334 L650.1,352 L643.1,352 Z" fill="#ffffff" filter="url(#b06)"/>
<ellipse cx="643.6" cy="355.8" rx="9" ry="3.5" fill="#4a4a4a" filter="url(#b2)" opacity="0.8"/>
<circle cx="641.6" cy="354.3" r="2.2" fill="#e0e0e0" filter="url(#b06)"/>
</g>
<path d="M388.5,141 L345,202" fill="none" stroke="#ee2a2a" stroke-width="1.0" stroke-dasharray="2.2,1.6"/>
<path d="M428.3,79 L429.6,199" fill="none" stroke="#ee2a2a" stroke-width="1.0" stroke-dasharray="2.2,1.6"/>
<path d="M495.5,47.5 L498,199" fill="none" stroke="#ee2a2a" stroke-width="1.0" stroke-dasharray="2.2,1.6"/>
<path d="M566.8,108 L569.6,150 L571.6,199" fill="none" stroke="#ee2a2a" stroke-width="1.0" stroke-dasharray="2.2,1.6"/>
<path d="M648,141.1 L651.5,149 L655.4,199" fill="none" stroke="#ee2a2a" stroke-width="1.0" stroke-dasharray="2.2,1.6"/>
<rect x="65.3" y="204.9" width="201.5" height="147.9" fill="url(#bgC)"/>
<path d="M65.3,204.9 L266.8,204.9" fill="none" stroke="#8c8c8c" stroke-width="1.6" />
<path d="M65.3,352.8 L266.8,352.8" fill="none" stroke="#777" stroke-width="1.5" />
<path d="M65.3,204.9 L65.3,352.8" fill="none" stroke="#3f663a" stroke-width="1.2" />
<path d="M266.8,204.9 L266.8,352.8" fill="none" stroke="#f6c945" stroke-width="1.2" />
<path d="M62.3,205 L65.3,205" fill="none" stroke="#3f663a" stroke-width="1" />
<path d="M63.3,216.08 L65.3,216.08" fill="none" stroke="#3f663a" stroke-width="1" />
<text transform="translate(49.8,207.35) scale(0.8792,1)" font-size="10.000" fill="#3f663a" stroke="#3f663a" stroke-width="0.24" >30</text>
<path d="M62.3,227.17 L65.3,227.17" fill="none" stroke="#3f663a" stroke-width="1" />
<path d="M63.3,238.25 L65.3,238.25" fill="none" stroke="#3f663a" stroke-width="1" />
<text transform="translate(49.7,229.52) scale(0.9010,1)" font-size="10.000" fill="#3f663a" stroke="#3f663a" stroke-width="0.24" >27</text>
<path d="M62.3,249.34 L65.3,249.34" fill="none" stroke="#3f663a" stroke-width="1" />
<path d="M63.3,260.42 L65.3,260.42" fill="none" stroke="#3f663a" stroke-width="1" />
<text transform="translate(49.71,251.69) scale(0.8835,1)" font-size="10.000" fill="#3f663a" stroke="#3f663a" stroke-width="0.24" >24</text>
<path d="M62.3,271.51 L65.3,271.51" fill="none" stroke="#3f663a" stroke-width="1" />
<path d="M63.3,282.59 L65.3,282.59" fill="none" stroke="#3f663a" stroke-width="1" />
<text transform="translate(49.7,273.86) scale(0.8966,1)" font-size="10.000" fill="#3f663a" stroke="#3f663a" stroke-width="0.24" >21</text>
<path d="M62.3,293.68 L65.3,293.68" fill="none" stroke="#3f663a" stroke-width="1" />
<path d="M63.3,304.76 L65.3,304.76" fill="none" stroke="#3f663a" stroke-width="1" />
<text transform="translate(49.46,296.03) scale(0.9146,1)" font-size="10.000" fill="#3f663a" stroke="#3f663a" stroke-width="0.24" >18</text>
<path d="M62.3,315.85 L65.3,315.85" fill="none" stroke="#3f663a" stroke-width="1" />
<path d="M63.3,326.93 L65.3,326.93" fill="none" stroke="#3f663a" stroke-width="1" />
<text transform="translate(49.46,318.2) scale(0.9146,1)" font-size="10.000" fill="#3f663a" stroke="#3f663a" stroke-width="0.24" >15</text>
<path d="M62.3,338.02 L65.3,338.02" fill="none" stroke="#3f663a" stroke-width="1" />
<path d="M63.3,349.1 L65.3,349.1" fill="none" stroke="#3f663a" stroke-width="1" />
<text transform="translate(49.46,340.37) scale(0.9239,1)" font-size="10.000" fill="#3f663a" stroke="#3f663a" stroke-width="0.24" >12</text>
<path d="M266.8,211.7 L269.8,211.7" fill="none" stroke="#f6c945" stroke-width="1" />
<path d="M266.8,222.22 L268.8,222.22" fill="none" stroke="#f6c945" stroke-width="1" />
<text transform="translate(271.9,214.35) scale(0.8806,1)" font-size="9.859" fill="#f6c945" stroke="#f6c945" stroke-width="0.24" >120</text>
<path d="M266.8,232.75 L269.8,232.75" fill="none" stroke="#f6c945" stroke-width="1" />
<path d="M266.8,243.27 L268.8,243.27" fill="none" stroke="#f6c945" stroke-width="1" />
<text transform="translate(271.9,235.4) scale(0.8834,1)" font-size="9.859" fill="#f6c945" stroke="#f6c945" stroke-width="0.24" >105</text>
<path d="M266.8,253.8 L269.8,253.8" fill="none" stroke="#f6c945" stroke-width="1" />
<path d="M266.8,264.32 L268.8,264.32" fill="none" stroke="#f6c945" stroke-width="1" />
<text transform="translate(272.16,256.45) scale(0.8764,1)" font-size="9.859" fill="#f6c945" stroke="#f6c945" stroke-width="0.24" >90</text>
<path d="M266.8,274.85 L269.8,274.85" fill="none" stroke="#f6c945" stroke-width="1" />
<path d="M266.8,285.37 L268.8,285.37" fill="none" stroke="#f6c945" stroke-width="1" />
<text transform="translate(272.11,277.5) scale(0.8850,1)" font-size="9.859" fill="#f6c945" stroke="#f6c945" stroke-width="0.24" >75</text>
<path d="M266.8,295.9 L269.8,295.9" fill="none" stroke="#f6c945" stroke-width="1" />
<path d="M266.8,306.42 L268.8,306.42" fill="none" stroke="#f6c945" stroke-width="1" />
<text transform="translate(272.12,298.55) scale(0.8807,1)" font-size="9.859" fill="#f6c945" stroke="#f6c945" stroke-width="0.24" >60</text>
<path d="M266.8,316.95 L269.8,316.95" fill="none" stroke="#f6c945" stroke-width="1" />
<path d="M266.8,327.47 L268.8,327.47" fill="none" stroke="#f6c945" stroke-width="1" />
<text transform="translate(272.38,319.6) scale(0.8597,1)" font-size="9.859" fill="#f6c945" stroke="#f6c945" stroke-width="0.24" >45</text>
<path d="M266.8,338 L269.8,338" fill="none" stroke="#f6c945" stroke-width="1" />
<path d="M266.8,348.52 L268.8,348.52" fill="none" stroke="#f6c945" stroke-width="1" />
<text transform="translate(272.21,340.65) scale(0.8722,1)" font-size="9.859" fill="#f6c945" stroke="#f6c945" stroke-width="0.24" >30</text>
<path d="M266.8,208.19 L268.8,208.19" fill="none" stroke="#f6c945" stroke-width="1" />
<path d="M65.4,352.8 L65.4,355.3" fill="none" stroke="#666" stroke-width="1" />
<path d="M78.8,352.8 L78.8,354.6" fill="none" stroke="#666" stroke-width="1" />
<text transform="translate(57.81,365.06) scale(0.9986,1)" font-size="8.873" fill="#333" stroke="#333" stroke-width="0.24" >200</text>
<path d="M92.23,352.8 L92.23,355.3" fill="none" stroke="#666" stroke-width="1" />
<path d="M105.63,352.8 L105.63,354.6" fill="none" stroke="#666" stroke-width="1" />
<text transform="translate(84.72,365.06) scale(0.9923,1)" font-size="8.873" fill="#333" stroke="#333" stroke-width="0.24" >300</text>
<path d="M119.05,352.8 L119.05,355.3" fill="none" stroke="#666" stroke-width="1" />
<path d="M132.45,352.8 L132.45,354.6" fill="none" stroke="#666" stroke-width="1" />
<text transform="translate(111.73,365.06) scale(0.9800,1)" font-size="8.873" fill="#333" stroke="#333" stroke-width="0.24" >400</text>
<path d="M145.88,352.8 L145.88,355.3" fill="none" stroke="#666" stroke-width="1" />
<path d="M159.28,352.8 L159.28,354.6" fill="none" stroke="#666" stroke-width="1" />
<text transform="translate(138.38,365.06) scale(0.9923,1)" font-size="8.873" fill="#333" stroke="#333" stroke-width="0.24" >500</text>
<path d="M172.71,352.8 L172.71,355.3" fill="none" stroke="#666" stroke-width="1" />
<path d="M186.11,352.8 L186.11,354.6" fill="none" stroke="#666" stroke-width="1" />
<text transform="translate(165.11,365.06) scale(0.9986,1)" font-size="8.873" fill="#333" stroke="#333" stroke-width="0.24" >600</text>
<path d="M199.53,352.8 L199.53,355.3" fill="none" stroke="#666" stroke-width="1" />
<path d="M212.94,352.8 L212.94,354.6" fill="none" stroke="#666" stroke-width="1" />
<text transform="translate(191.94,365.06) scale(0.9986,1)" font-size="8.873" fill="#333" stroke="#333" stroke-width="0.24" >700</text>
<path d="M226.36,352.8 L226.36,355.3" fill="none" stroke="#666" stroke-width="1" />
<path d="M239.76,352.8 L239.76,354.6" fill="none" stroke="#666" stroke-width="1" />
<text transform="translate(218.81,365.06) scale(0.9954,1)" font-size="8.873" fill="#333" stroke="#333" stroke-width="0.24" >800</text>
<path d="M253.19,352.8 L253.19,355.3" fill="none" stroke="#666" stroke-width="1" />
<path d="M266.59,352.8 L266.59,354.6" fill="none" stroke="#666" stroke-width="1" />
<text transform="translate(245.64,365.06) scale(0.9954,1)" font-size="8.873" fill="#333" stroke="#333" stroke-width="0.24" >900</text>
<text transform="translate(146.31,376.95) scale(0.9192,1)" font-size="10.000" fill="#333" stroke="#333" stroke-width="0.24" >Power (W)</text>
<text transform="translate(44.95,303.09) rotate(-90) scale(0.9103,1)" font-size="10.145" fill="#3f663a" stroke="#3f663a" stroke-width="0.24">Height (mm)</text>
<text transform="translate(295.75,303.05) rotate(-90) scale(0.9777,1)" font-size="8.986" fill="#f6c945" stroke="#f6c945" stroke-width="0.24">Frequency (Hz)</text>
<text transform="translate(1.16,205.9) scale(0.9487,1)" font-size="18.824" fill="#111" font-weight="bold" >(</text>
<text transform="translate(7.9,205.87) scale(1.0217,1)" font-size="18.364" fill="#111" font-weight="bold" >c</text>
<text transform="translate(18.95,205.9) scale(0.9507,1)" font-size="18.824" fill="#111" font-weight="bold" >)</text>
<path d="M65.3,240.45 L266.8,237.3" fill="none" stroke="#f7cd3c" stroke-width="1.0" stroke-dasharray="1.8,1.5,0.7,1.5,0.7,1.5"/>
<path d="M65.3,344.5 L266.8,240.3" fill="none" stroke="#3a4a3a" stroke-width="0.9" stroke-dasharray="2.2,1.2,0.8,1.2"/>
<path d="M92.23,239.9 L93.18,242.19 L95.65,242.39 L93.77,244 L94.34,246.41 L92.23,245.12 L90.11,246.41 L90.69,244 L88.8,242.39 L91.27,242.19 Z" fill="#f7c21a"/>
<path d="M105.64,234 L106.59,236.29 L109.06,236.49 L107.18,238.1 L107.76,240.51 L105.64,239.22 L103.52,240.51 L104.1,238.1 L102.22,236.49 L104.69,236.29 Z" fill="#f7c21a"/>
<path d="M119.05,230.6 L120.01,232.89 L122.48,233.09 L120.59,234.7 L121.17,237.11 L119.05,235.82 L116.94,237.11 L117.51,234.7 L115.63,233.09 L118.1,232.89 Z" fill="#f7c21a"/>
<path d="M132.47,238.4 L133.42,240.69 L135.89,240.89 L134.01,242.5 L134.58,244.91 L132.47,243.62 L130.35,244.91 L130.93,242.5 L129.04,240.89 L131.52,240.69 Z" fill="#f7c21a"/>
<path d="M145.88,239.1 L146.83,241.39 L149.3,241.59 L147.42,243.2 L148,245.61 L145.88,244.32 L143.76,245.61 L144.34,243.2 L142.46,241.59 L144.93,241.39 Z" fill="#f7c21a"/>
<path d="M159.29,230.6 L160.25,232.89 L162.72,233.09 L160.84,234.7 L161.41,237.11 L159.29,235.82 L157.18,237.11 L157.75,234.7 L155.87,233.09 L158.34,232.89 Z" fill="#f7c21a"/>
<path d="M172.71,236.1 L173.66,238.39 L176.13,238.59 L174.25,240.2 L174.82,242.61 L172.71,241.32 L170.59,242.61 L171.17,240.2 L169.28,238.59 L171.76,238.39 Z" fill="#f7c21a"/>
<path d="M186.12,230.8 L187.07,233.09 L189.55,233.29 L187.66,234.9 L188.24,237.31 L186.12,236.02 L184.01,237.31 L184.58,234.9 L182.7,233.29 L185.17,233.09 Z" fill="#f7c21a"/>
<path d="M199.53,234 L200.49,236.29 L202.96,236.49 L201.08,238.1 L201.65,240.51 L199.53,239.22 L197.42,240.51 L197.99,238.1 L196.11,236.49 L198.58,236.29 Z" fill="#f7c21a"/>
<path d="M212.95,233.4 L213.9,235.69 L216.37,235.89 L214.49,237.5 L215.06,239.91 L212.95,238.62 L210.83,239.91 L211.41,237.5 L209.52,235.89 L212,235.69 Z" fill="#f7c21a"/>
<path d="M226.36,231.7 L227.31,233.99 L229.79,234.19 L227.9,235.8 L228.48,238.21 L226.36,236.92 L224.25,238.21 L224.82,235.8 L222.94,234.19 L225.41,233.99 Z" fill="#f7c21a"/>
<path d="M239.78,238.2 L240.73,240.49 L243.2,240.69 L241.32,242.3 L241.89,244.71 L239.78,243.42 L237.66,244.71 L238.23,242.3 L236.35,240.69 L238.82,240.49 Z" fill="#f7c21a"/>
<circle cx="92.23" cy="333.7" r="3" fill="url(#ball)"/>
<circle cx="105.64" cy="327.9" r="3" fill="url(#ball)"/>
<circle cx="119.05" cy="320.8" r="3" fill="url(#ball)"/>
<circle cx="132.47" cy="305.7" r="3" fill="url(#ball)"/>
<circle cx="145.88" cy="298.6" r="3" fill="url(#ball)"/>
<circle cx="159.29" cy="286.6" r="3" fill="url(#ball)"/>
<circle cx="172.71" cy="283.6" r="3" fill="url(#ball)"/>
<circle cx="186.12" cy="289.7" r="3" fill="url(#ball)"/>
<circle cx="199.53" cy="278.6" r="3" fill="url(#ball)"/>
<circle cx="212.95" cy="261.9" r="3" fill="url(#ball)"/>
<circle cx="226.36" cy="267.8" r="3" fill="url(#ball)"/>
<circle cx="239.78" cy="254.8" r="3" fill="url(#ball)"/>
<circle cx="75.3" cy="213.4" r="2.6" fill="url(#ball)"/>
<text transform="translate(88.7,215.85) scale(0.8546,1)" font-size="8.116" fill="#3a5a34" stroke="#3a5a34" stroke-width="0.24" >Flame height</text>
<path d="M66.6,224.4 L84.5,224.4" fill="none" stroke="#4a5a4a" stroke-width="0.9" stroke-dasharray="2.2,1.2,0.8,1.2"/>
<text transform="translate(88.69,227.15) scale(0.8481,1)" font-size="8.261" fill="#3a5a34" stroke="#3a5a34" stroke-width="0.24" >Fitted</text>
<path d="M192.8,211.3 L193.59,213.21 L195.65,213.37 L194.08,214.72 L194.56,216.73 L192.8,215.65 L191.04,216.73 L191.52,214.72 L189.95,213.37 L192.01,213.21 Z" fill="#f7c21a"/>
<text transform="translate(203.39,216.65) scale(0.8160,1)" font-size="8.551" fill="#f2c435" stroke="#f2c435" stroke-width="0.24" >Flashing frequency</text>
<path d="M183.7,225.1 L201.7,225.1" fill="none" stroke="#f7cd3c" stroke-width="1.0" stroke-dasharray="1.8,1.5,0.7,1.5,0.7,1.5"/>
<text transform="translate(205.69,227.85) scale(0.8008,1)" font-size="8.696" fill="#f2c435" stroke="#f2c435" stroke-width="0.24" >Fitted</text>
<clipPath id="clipIn"><rect x="78.1" y="261.6" width="22.9" height="56.4"/></clipPath>
<radialGradient id="inGlow" cx="0.5" cy="0.5" r="0.5"><stop offset="0" stop-color="#b8b8b8"/><stop offset="0.5" stop-color="#767676" stop-opacity="0.85"/><stop offset="1" stop-color="#333" stop-opacity="0"/></radialGradient>
<g clip-path="url(#clipIn)">
<rect x="78" y="261.5" width="23" height="56.5" fill="#121212"/>
<ellipse cx="89.5" cy="292" rx="12" ry="33" fill="url(#inGlow)"/>
<ellipse cx="89" cy="313" rx="10" ry="4" fill="#505050" filter="url(#b2)"/>
<ellipse cx="88.8" cy="305" rx="4.5" ry="6.5" fill="#cfcfcf" filter="url(#b2)"/>
<path d="M88.2,300.5 C90.5,301 91.2,304.5 90.6,308 L91,311.5 L89.6,311.5 C88.4,309.5 86.6,309 86.2,306.5 C85.9,303 86.6,300.6 88.2,300.5 Z" fill="#ffffff" filter="url(#b06)"/>
</g>
<line x1="105.25" y1="266" x2="105.25" y2="313.5" stroke="#f01c1c" stroke-width="1.1"/>
<path d="M105.25,261.3 L103.0,268.7 L107.5,268.7 Z" fill="#f01c1c"/>
<path d="M105.25,317.6 L103.1,310.3 L107.4,310.3 Z" fill="#f01c1c"/>
</svg></body></html>
